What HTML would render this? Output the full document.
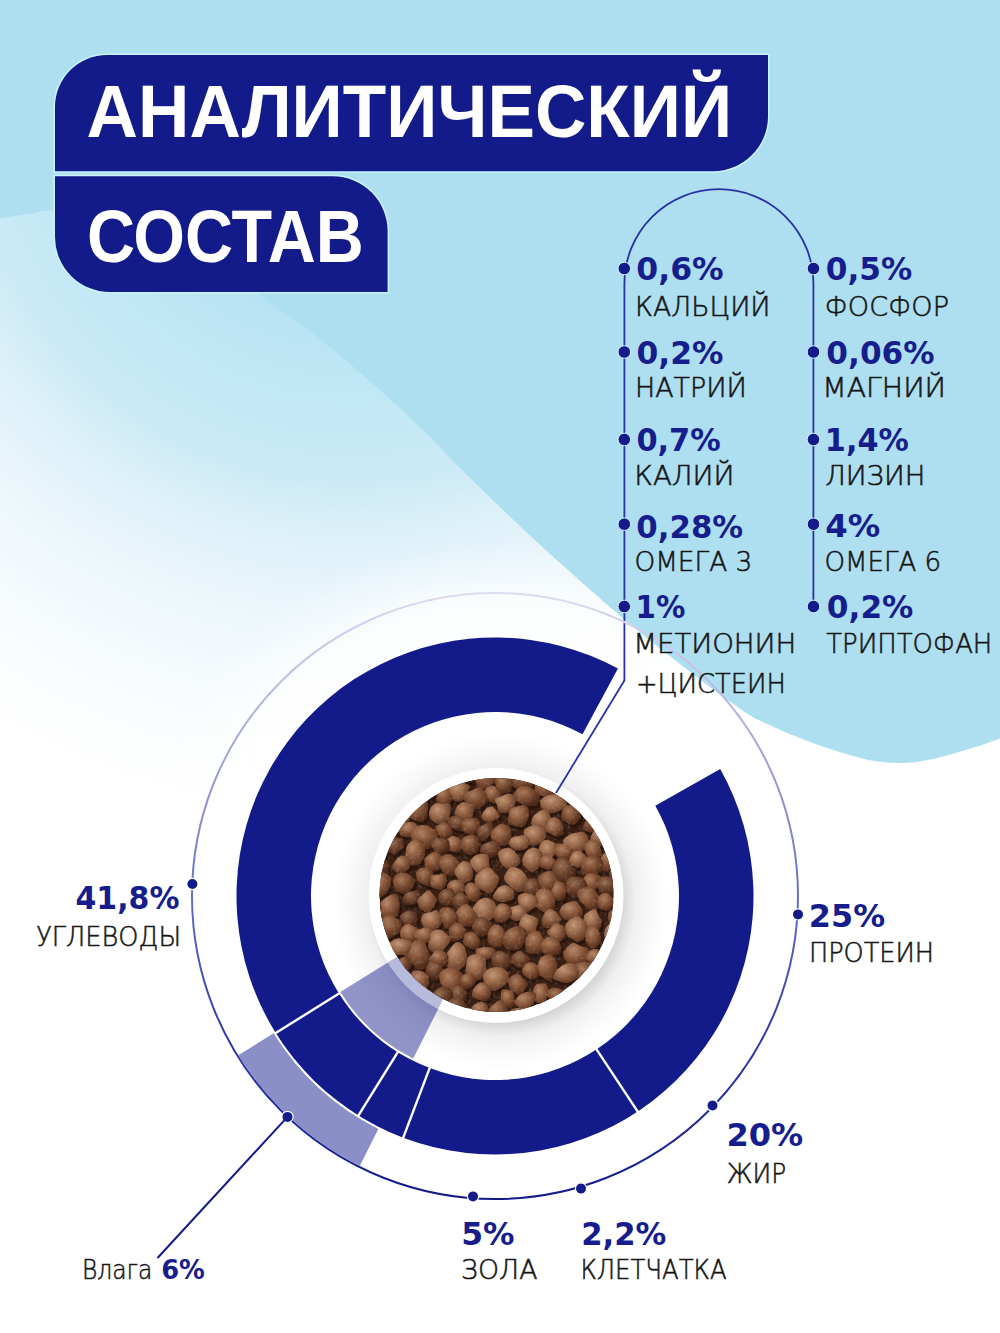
<!DOCTYPE html>
<html lang="ru"><head><meta charset="utf-8"><title>Аналитический состав</title>
<style>html,body{margin:0;padding:0;background:#fff;}body{width:1000px;height:1333px;overflow:hidden;}svg{display:block;}</style>
</head><body>
<svg width="1000" height="1333" viewBox="0 0 1000 1333" font-family="'Liberation Sans', 'DejaVu Sans', sans-serif">
<defs>
<radialGradient id="bgg" gradientUnits="userSpaceOnUse" cx="350" cy="100" r="720">
<stop offset="0" stop-color="#aedff0"/><stop offset="0.278" stop-color="#b6e2f3"/><stop offset="0.417" stop-color="#c2e7f5"/><stop offset="0.528" stop-color="#cbeaf6"/><stop offset="0.597" stop-color="#dbf0f8"/><stop offset="0.639" stop-color="#e1f2fa"/><stop offset="0.694" stop-color="#e9f5fb"/><stop offset="0.75" stop-color="#eff8fc"/><stop offset="0.806" stop-color="#f4fafd"/><stop offset="0.903" stop-color="#fafdfe"/><stop offset="1" stop-color="#ffffff"/>
</radialGradient>
<linearGradient id="ring" gradientUnits="userSpaceOnUse" x1="0" y1="593" x2="0" y2="1199">
<stop offset="0" stop-color="#e0dbf0"/><stop offset="0.3" stop-color="#9c9ad3"/><stop offset="0.5" stop-color="#6870c2"/><stop offset="0.75" stop-color="#2c35a4"/><stop offset="1" stop-color="#131b8b"/>
</linearGradient>
<radialGradient id="glow" gradientUnits="userSpaceOnUse" cx="495" cy="896" r="360">
<stop offset="0" stop-color="#fff" stop-opacity="1"/><stop offset="0.8" stop-color="#fff" stop-opacity="0.85"/><stop offset="0.9" stop-color="#fff" stop-opacity="0.35"/><stop offset="1" stop-color="#fff" stop-opacity="0"/>
</radialGradient>
<radialGradient id="shadow" gradientUnits="userSpaceOnUse" cx="501" cy="902" r="168">
<stop offset="0.72" stop-color="#000" stop-opacity="0.16"/><stop offset="0.80" stop-color="#000" stop-opacity="0.06"/><stop offset="0.9" stop-color="#000" stop-opacity="0.025"/><stop offset="1" stop-color="#000" stop-opacity="0"/>
</radialGradient>
<radialGradient id="k1" cx="0.4" cy="0.35" r="0.7"><stop offset="0" stop-color="#c08e6c"/><stop offset="0.6" stop-color="#9a6446"/><stop offset="1" stop-color="#5e3421"/></radialGradient>
<radialGradient id="k2" cx="0.4" cy="0.35" r="0.7"><stop offset="0" stop-color="#b07a58"/><stop offset="0.6" stop-color="#8c5539"/><stop offset="1" stop-color="#52301f"/></radialGradient>
<radialGradient id="k3" cx="0.4" cy="0.35" r="0.7"><stop offset="0" stop-color="#c9997a"/><stop offset="0.6" stop-color="#a56e4f"/><stop offset="1" stop-color="#643a25"/></radialGradient>
<radialGradient id="k4" cx="0.4" cy="0.35" r="0.7"><stop offset="0" stop-color="#a87254"/><stop offset="0.6" stop-color="#7e4a31"/><stop offset="1" stop-color="#4a2a1a"/></radialGradient>
<radialGradient id="ka" cx="0.38" cy="0.32" r="0.75"><stop offset="0" stop-color="#b5886a"/><stop offset="0.45" stop-color="#8c5a3e"/><stop offset="1" stop-color="#4a2616"/></radialGradient>
<radialGradient id="kb" cx="0.38" cy="0.32" r="0.75"><stop offset="0" stop-color="#a67a5c"/><stop offset="0.45" stop-color="#7c4c32"/><stop offset="1" stop-color="#402012"/></radialGradient>
<radialGradient id="kc" cx="0.38" cy="0.32" r="0.75"><stop offset="0" stop-color="#c09474"/><stop offset="0.45" stop-color="#98684a"/><stop offset="1" stop-color="#542e1c"/></radialGradient>
<radialGradient id="kd" cx="0.38" cy="0.32" r="0.75"><stop offset="0" stop-color="#966e54"/><stop offset="0.45" stop-color="#6c422c"/><stop offset="1" stop-color="#381a0e"/></radialGradient>
<radialGradient id="ke" cx="0.38" cy="0.32" r="0.75"><stop offset="0" stop-color="#ae8062"/><stop offset="0.45" stop-color="#865438"/><stop offset="1" stop-color="#482414"/></radialGradient>
<filter id="grain" x="0" y="0" width="1" height="1" color-interpolation-filters="sRGB">
<feTurbulence type="fractalNoise" baseFrequency="0.28" numOctaves="2" seed="5"/>
<feColorMatrix type="matrix" values="0 0 0 0 0.9  0 0 0 0 0.78  0 0 0 0 0.68  1.8 0 0 0 -0.95"/>
</filter>
<clipPath id="food"><circle cx="496.5" cy="895" r="117"/></clipPath>
<clipPath id="rimclip"><circle cx="496" cy="895.5" r="127.5"/></clipPath>
</defs>
<rect width="1000" height="1333" fill="#aedff0"/>
<path d="M-5 219 C0.83 218.17 19.17 215.17 30 214 C40.83 212.83 40 208 60 212 C80 216 124.17 229.33 150 238 C175.83 246.67 197.27 254.83 215 264 C232.73 273.17 238.23 279.93 256.4 293 C274.57 306.07 299.73 322.9 324 342.4 C348.27 361.9 377.73 387.47 402 410 C426.27 432.53 446.6 455.13 469.6 477.6 C492.6 500.07 514.27 521.2 540 544.8 C565.73 568.4 600 598.8 624 619.2 C648 639.6 666 653.2 684 667.2 C702 681.2 719.33 694.27 732 703.2 C744.67 712.13 747.33 714.47 760 720.8 C772.67 727.13 792 735.2 808 741.2 C824 747.2 844 753.37 856 756.8 C868 760.23 872 760.77 880 761.8 C888 762.83 896 763.3 904 763 C912 762.7 920 761.5 928 760 C936 758.5 944 756.2 952 754 C960 751.8 968 749.4 976 746.8 C984 744.2 994 740.7 1000 738.4 C1006 736.1 1010 733.9 1012 733 L1012 1340 L-5 1340 Z" fill="url(#bgg)"/>
<path d="M-5 219 C0.83 218.17 19.17 215.17 30 214 C40.83 212.83 40 208 60 212 C80 216 124.17 229.33 150 238 C175.83 246.67 197.27 254.83 215 264 C232.73 273.17 238.23 279.93 256.4 293 C274.57 306.07 299.73 322.9 324 342.4 C348.27 361.9 377.73 387.47 402 410 C426.27 432.53 446.6 455.13 469.6 477.6 C492.6 500.07 514.27 521.2 540 544.8 C565.73 568.4 600 598.8 624 619.2 C648 639.6 666 653.2 684 667.2 C702 681.2 719.33 694.27 732 703.2 C744.67 712.13 747.33 714.47 760 720.8 C772.67 727.13 792 735.2 808 741.2 C824 747.2 844 753.37 856 756.8 C868 760.23 872 760.77 880 761.8 C888 762.83 896 763.3 904 763 C912 762.7 920 761.5 928 760 C936 758.5 944 756.2 952 754 C960 751.8 968 749.4 976 746.8 C984 744.2 994 740.7 1000 738.4 C1006 736.1 1010 733.9 1012 733 L1012 1340 L-5 1340 Z" fill="url(#glow)"/>
<path d="M107 55 H768 V116.19999999999999 A55 55 0 0 1 713 171.2 H55 V107 A52 52 0 0 1 107 55 Z" fill="#131b8b" stroke="#c8f3fe" stroke-width="3" paint-order="stroke"/>
<path d="M55 176.2 H332.6 A55 55 0 0 1 387.6 231.2 V292 H110 A55 55 0 0 1 55 237 Z" fill="#131b8b" stroke="#c8f3fe" stroke-width="3" paint-order="stroke"/>
<path d="M624.4 283.7 A94.5 94.5 0 0 1 813.4 283.7 V606.5 M624.4 283.7 V681" fill="none" stroke="#2832a6" stroke-width="1.8"/>
<circle cx="624.3" cy="268.5" r="6.3" fill="#131b8b" stroke="#d6f3ff" stroke-width="1"/>
<circle cx="624.3" cy="352" r="6.3" fill="#131b8b" stroke="#d6f3ff" stroke-width="1"/>
<circle cx="624.3" cy="439.5" r="6.3" fill="#131b8b" stroke="#d6f3ff" stroke-width="1"/>
<circle cx="624.3" cy="524.2" r="6.3" fill="#131b8b" stroke="#d6f3ff" stroke-width="1"/>
<circle cx="624.3" cy="606.5" r="6.3" fill="#131b8b" stroke="#d6f3ff" stroke-width="1"/>
<circle cx="813.5" cy="268.5" r="6.3" fill="#131b8b" stroke="#d6f3ff" stroke-width="1"/>
<circle cx="813.5" cy="352" r="6.3" fill="#131b8b" stroke="#d6f3ff" stroke-width="1"/>
<circle cx="813.5" cy="439.5" r="6.3" fill="#131b8b" stroke="#d6f3ff" stroke-width="1"/>
<circle cx="813.5" cy="524.2" r="6.3" fill="#131b8b" stroke="#d6f3ff" stroke-width="1"/>
<circle cx="813.5" cy="606.5" r="6.3" fill="#131b8b" stroke="#d6f3ff" stroke-width="1"/>
<circle cx="495.0" cy="896.0" r="303" fill="none" stroke="url(#ring)" stroke-width="2"/>
<path d="M238.33 1055.14 A302 302 0 0 0 359.78 1166.03 L378.36 1128.93 A260.5 260.5 0 0 1 273.6 1033.27 Z" fill="#8a8fc7"/>
<path d="M617.95 668.61 A258.5 258.5 0 1 0 720.21 769.1 L655.3 805.67 A184 184 0 1 1 582.51 734.14 Z" fill="#131b8b"/>
<line x1="340.23" y1="992.71" x2="274.93" y2="1033.51" stroke="#fff" stroke-width="2.4"/>
<line x1="398.56" y1="1050.94" x2="357.87" y2="1116.31" stroke="#fff" stroke-width="2.4"/>
<line x1="430.19" y1="1066.61" x2="402.85" y2="1138.59" stroke="#fff" stroke-width="2.4"/>
<line x1="595.73" y1="1048.18" x2="638.23" y2="1112.39" stroke="#fff" stroke-width="2.4"/>
<circle cx="501" cy="902" r="168" fill="url(#shadow)"/>
<path d="M340.32 991.91 A182 182 0 0 0 413.22 1058.59 L450.07 985.34 A100 100 0 0 1 410.01 948.7 Z" fill="#131b8b" fill-opacity="0.47"/>
<circle cx="496" cy="895.5" r="127.5" fill="#ffffff"/>
<path d="M340.32 991.91 A182 182 0 0 0 413.22 1058.59 L450.07 985.34 A100 100 0 0 1 410.01 948.7 Z" fill="#131b8b" fill-opacity="0.3" clip-path="url(#rimclip)"/>
<g clip-path="url(#food)"><circle cx="496.5" cy="895.0" r="117.0" fill="#3a2014"/>
<g fill="#24120a" opacity="0.8"><path d="M474.1 774.7C473.9 777.1 474.5 780.9 472.8 782.1C471.1 783.4 466.8 782.5 464 782.3C461.3 782.2 458.4 782.3 456.3 781.1C454.2 779.8 452.1 777.2 451.6 775.1C451.1 772.9 452.1 770.5 453.2 768.3C454.2 766.1 455.6 762.9 458 761.8C460.4 760.8 464.8 761 467.5 762C470.2 762.9 473.3 765.4 474.4 767.5C475.5 769.6 474.4 772.3 474.1 774.7Z" transform="translate(2 3)"/><path d="M496.4 781.5C495.1 783.8 491.4 784.5 488.9 785.9C486.3 787.3 483.2 790.3 481.1 789.9C479 789.4 477.2 785.6 476.2 783.2C475.2 780.9 474.7 778.1 475.1 775.7C475.5 773.3 476.9 771 478.5 768.7C480.1 766.4 482.5 762.6 484.9 762C487.3 761.4 490.8 763.2 492.8 765C494.8 766.7 496.2 769.5 496.8 772.3C497.4 775 497.8 779.2 496.4 781.5Z" transform="translate(2 3)"/><path d="M527 790.1C524.3 790.9 520.7 790.9 518 789.8C515.3 788.7 512 786 511 783.4C509.9 780.8 510.8 776.8 511.6 774.2C512.5 771.6 514.1 769.7 516 767.9C518 766.2 520.7 763.6 523 763.7C525.4 763.9 528.1 766.7 529.9 768.6C531.8 770.6 533.3 772.8 534.1 775.5C534.9 778.2 535.9 782.5 534.8 784.9C533.6 787.4 529.8 789.2 527 790.1Z" transform="translate(2 3)"/><path d="M453.8 786.8C452.8 788.2 449.9 789.1 447.7 789.1C445.5 789.2 442.3 788.4 440.6 786.9C438.8 785.5 438 782.5 437.3 780.4C436.6 778.2 435.6 775.5 436.2 774C436.9 772.4 439.4 771.5 441.1 770.9C442.9 770.4 444.9 770.1 446.8 770.6C448.8 771.2 451.5 772.5 452.7 774.1C453.8 775.7 453.5 778.1 453.7 780.2C453.9 782.3 454.8 785.3 453.8 786.8Z" transform="translate(2 3)"/><path d="M512.9 785.8C512.6 787.9 511 790.5 509.5 791.8C508 793 505.9 793.2 504.1 793.3C502.3 793.5 499.9 793.9 498.6 792.9C497.3 791.8 496.9 789.2 496.3 787.1C495.7 785.1 494.6 782.5 495.1 780.4C495.7 778.3 497.8 775.4 499.6 774.6C501.4 773.8 503.9 775.2 505.9 775.9C507.8 776.6 510.1 777.1 511.3 778.8C512.5 780.4 513.2 783.6 512.9 785.8Z" transform="translate(2 3)"/><path d="M542.6 796.2C540 795.6 535.8 795.8 534.6 793.9C533.3 792 534.6 787.6 535.2 784.9C535.8 782.3 536.7 779.8 538.3 778C539.9 776.2 542.4 774.4 544.7 774.1C547 773.8 550 774.6 551.8 776C553.6 777.4 554.5 780 555.4 782.6C556.3 785.2 558.3 789 557.4 791.5C556.6 794 552.9 796.8 550.5 797.6C548 798.4 545.3 796.8 542.6 796.2Z" transform="translate(2 3)"/><path d="M422.2 801.5C420.4 800.5 420.5 796 420 793C419.5 790.1 418.2 786.7 419.2 783.9C420.3 781.2 423.9 778.6 426.5 776.7C429 774.8 432.2 772.4 434.5 772.6C436.7 772.7 438.8 775.3 439.9 777.5C440.9 779.6 441.4 782.7 440.9 785.4C440.4 788 438.6 791 436.9 793.3C435.2 795.6 433.1 797.7 430.7 799C428.2 800.4 424 802.5 422.2 801.5Z" transform="translate(2 3)"/><path d="M450.8 797.7C449.4 795.9 448.1 793.7 447.9 791.5C447.8 789.2 448.6 786.1 450.1 784.2C451.6 782.2 454.6 780.1 456.8 779.9C459 779.6 461.2 781.5 463.3 782.5C465.4 783.5 468.7 784.3 469.4 786.1C470.1 787.9 468.2 791 467.3 793.2C466.4 795.5 465.8 798.2 464 799.7C462.2 801.1 458.8 802.1 456.6 801.7C454.4 801.4 452.3 799.4 450.8 797.7Z" transform="translate(2 3)"/><path d="M576.9 797.4C575.5 798.8 572.4 798.5 570.2 799.1C568 799.6 565.6 801.3 563.9 800.8C562.1 800.2 560.3 797.7 559.7 795.8C559.2 793.8 559.6 791 560.5 789.2C561.4 787.4 563.3 786.2 564.9 785C566.6 783.8 568.6 782 570.3 782C572 782.1 573.5 783.9 575 785.3C576.4 786.6 578.5 788.2 578.8 790.2C579.1 792.2 578.3 795.9 576.9 797.4Z" transform="translate(2 3)"/><path d="M500.8 800.6C499.8 802.1 497.4 803.2 495.5 803.4C493.6 803.5 491.1 802.6 489.4 801.5C487.6 800.4 485.8 798.7 485 797C484.2 795.2 483.9 792.8 484.4 791.1C484.9 789.4 486.2 787.5 487.8 786.6C489.3 785.7 492 785.3 493.7 785.9C495.4 786.5 496.7 788.7 498 790.2C499.3 791.6 501.2 793 501.7 794.7C502.2 796.5 501.9 799.2 500.8 800.6Z" transform="translate(2 3)"/><path d="M526.1 806.1C523.4 805.7 521.5 804.1 519.1 802.7C516.8 801.3 512.8 799.7 512.2 797.7C511.7 795.8 514.1 792.8 515.7 790.9C517.4 788.9 519.7 786.6 522.2 786C524.7 785.5 528.3 786.7 530.7 787.7C533 788.7 534.6 790.3 536.2 792.1C537.7 793.9 540 796.4 539.9 798.6C539.8 800.8 537.6 804 535.3 805.2C533 806.5 528.8 806.5 526.1 806.1Z" transform="translate(2 3)"/><path d="M445.3 805.7C443.7 806 441.7 806.1 440.2 805.2C438.7 804.3 436.6 802.1 436.1 800.2C435.7 798.3 436.8 795.6 437.6 793.8C438.4 792 439.4 790.7 440.9 789.5C442.3 788.4 444.6 786.3 446.1 786.8C447.6 787.3 448.7 790.6 449.8 792.5C450.9 794.4 452.8 796.3 452.8 798.2C452.7 800 450.9 802.3 449.7 803.5C448.4 804.8 446.9 805.4 445.3 805.7Z" transform="translate(2 3)"/><path d="M476.4 810C474.1 809.9 471.9 806.8 469.9 805.2C467.8 803.6 464.9 802.4 464.1 800.4C463.3 798.4 463.8 794.7 465.3 792.9C466.7 791.2 470.1 791 472.7 790C475.3 789 478.7 786.4 480.9 786.9C483.1 787.5 484.6 791.2 485.9 793.5C487.1 795.7 489 798.2 488.6 800.2C488.2 802.3 485.5 804.2 483.5 805.8C481.4 807.5 478.6 810.1 476.4 810Z" transform="translate(2 3)"/><path d="M556.9 812.3C554.3 813.2 550.4 813.9 547.9 813.2C545.3 812.5 542.7 810.2 541.5 808.1C540.3 805.9 539.6 802.4 540.7 800.2C541.9 798.1 545.7 796.1 548.3 795.1C550.8 794.1 553.6 794.1 556 794.2C558.5 794.4 561 794.7 563 795.9C565 797 567.9 799.2 568 801.2C568.1 803.2 565.5 806 563.6 807.9C561.8 809.7 559.5 811.4 556.9 812.3Z" transform="translate(2 3)"/><path d="M506.9 813C504.7 813.4 501.1 813.2 499.5 811.9C497.9 810.7 498.1 807.8 497.3 805.7C496.5 803.5 494 800.7 494.8 799.1C495.5 797.5 499.6 797.1 501.9 796.2C504.2 795.2 506.2 793.4 508.4 793.5C510.6 793.6 514 795.1 515.2 796.8C516.3 798.5 515.7 801.5 515.3 803.7C515 805.8 514.5 807.9 513.1 809.5C511.7 811.1 509.2 812.6 506.9 813Z" transform="translate(2 3)"/><path d="M595.4 814.4C594.1 815.5 592.3 816.2 590.5 816.4C588.7 816.5 586.4 816.4 584.7 815.4C583 814.5 580.6 812.3 580.2 810.6C579.8 808.8 581.5 806.7 582.3 805C583.1 803.3 583.5 800.9 585 800.1C586.4 799.3 589.2 799.6 591 800.3C592.8 800.9 594.7 802.3 596 803.8C597.2 805.4 598.5 807.8 598.4 809.6C598.3 811.4 596.7 813.3 595.4 814.4Z" transform="translate(2 3)"/><path d="M426.6 817.9C425.4 819.8 422.7 821.9 420.1 822C417.5 822 413.3 820.3 411.1 818.3C408.9 816.3 407.8 812.9 406.7 810.1C405.7 807.3 404.1 803.8 404.7 801.6C405.3 799.3 408.3 797.6 410.6 796.8C413 796.1 416 796.3 418.9 797.1C421.7 798 426 799.8 427.5 802C428.9 804.3 427.8 808.1 427.6 810.7C427.5 813.4 427.9 816.1 426.6 817.9Z" transform="translate(2 3)"/><path d="M471.8 820.3C470.4 821.8 467.1 822.8 464.9 822.7C462.6 822.6 460 821.2 458.3 819.6C456.6 818 455.2 815.5 454.9 813.3C454.7 811.1 455.7 808.4 456.9 806.5C458.1 804.7 460.3 802.7 462.3 802.2C464.4 801.6 466.9 802.4 469 803.2C471.1 804 474.2 805.3 474.8 807C475.5 808.7 473.5 811.4 473 813.6C472.5 815.8 473.1 818.8 471.8 820.3Z" transform="translate(2 3)"/><path d="M448.7 818.6C447.3 820.8 444.7 823.5 442.4 824.2C440.1 824.8 437 823.8 434.8 822.7C432.7 821.5 430.3 819.6 429.5 817.3C428.7 815 428.9 811.4 429.9 809.1C430.9 806.7 433.5 804 435.6 803.2C437.7 802.3 440 803.6 442.4 803.7C444.8 803.8 448.5 802.5 449.9 803.8C451.3 805.1 450.9 809 450.7 811.5C450.5 813.9 450.1 816.5 448.7 818.6Z" transform="translate(2 3)"/><path d="M579.3 820.3C578.2 822.2 575.9 824.7 573.8 825.1C571.8 825.5 569 823.9 567 822.8C565 821.7 562.8 820.4 561.9 818.6C561 816.8 561.4 814.3 561.8 812.1C562.2 809.9 562.8 806.7 564.4 805.6C566 804.4 569 805.1 571.4 805.2C573.8 805.3 577.3 804.7 578.9 806.1C580.5 807.5 580.7 811.1 580.8 813.5C580.8 815.8 580.5 818.3 579.3 820.3Z" transform="translate(2 3)"/><path d="M484.8 821.5C483.3 820.6 481.5 818.3 481.4 816.6C481.2 814.9 483 812.9 484 811.3C485.1 809.8 486 808.1 487.5 807.4C489 806.6 491.5 806.2 493 806.8C494.5 807.3 495.3 809.3 496.5 810.8C497.6 812.3 500.1 814.4 499.9 816C499.7 817.5 496.6 819.1 495 820.1C493.4 821.1 492.1 821.9 490.4 822.1C488.7 822.3 486.3 822.5 484.8 821.5Z" transform="translate(2 3)"/><path d="M397.2 825C395.6 824.4 394.4 822.7 393.5 820.9C392.6 819 391.4 816.6 391.7 814.1C392 811.7 393.6 807.8 395.3 806.4C396.9 804.9 399.7 805.5 401.8 805.4C404 805.2 406.5 804.4 408.2 805.6C409.8 806.7 411.4 809.7 411.6 812.3C411.7 814.9 410.6 819 409.1 821C407.6 823 404.7 823.8 402.7 824.4C400.7 825.1 398.7 825.6 397.2 825Z" transform="translate(2 3)"/><path d="M508.6 823.6C507.5 821.9 508.3 818.7 508.6 816.3C508.9 814 509 811 510.5 809.3C512 807.6 515.1 806.9 517.7 806.3C520.2 805.7 523.9 804.5 525.8 805.5C527.8 806.5 528.9 809.9 529.2 812.3C529.6 814.6 528.9 817.1 528 819.5C527 821.9 525.5 825.4 523.4 826.6C521.3 827.7 517.8 826.8 515.3 826.3C512.9 825.9 509.7 825.3 508.6 823.6Z" transform="translate(2 3)"/><path d="M536.1 829.6C534.5 828.9 532.5 827.8 531.8 825.9C531.2 824 531.3 820.5 532.2 818.2C533.2 816 535.7 813.9 537.6 812.5C539.5 811.1 541.8 809.8 543.7 809.8C545.6 809.8 547.5 811.1 548.7 812.6C549.9 814.2 551.2 816.6 551 819C550.9 821.4 549.4 824.9 547.8 826.8C546.2 828.6 543.4 829.5 541.5 830C539.6 830.5 537.7 830.3 536.1 829.6Z" transform="translate(2 3)"/><path d="M588.3 832C586.4 831.4 582.9 830.9 582.5 829.1C582 827.3 584.4 823.3 585.5 821.1C586.6 818.8 587.5 817.5 589.1 815.5C590.6 813.6 593 810 595.1 809.6C597.1 809.2 599.6 811.2 601.1 813C602.5 814.8 604 817.9 603.7 820.4C603.4 822.8 600.8 825.8 599.1 827.8C597.5 829.8 595.7 831.5 593.9 832.2C592.1 832.9 590.2 832.5 588.3 832Z" transform="translate(2 3)"/><path d="M455.1 830C453.3 829.3 451.2 828 449.9 826.5C448.6 825 447.1 822.6 447.3 820.9C447.5 819.3 449.3 817.6 450.9 816.8C452.6 815.9 455.2 815.6 457.3 815.9C459.5 816.2 461.9 817.5 463.8 818.8C465.6 820.2 467.8 822.2 468.5 824C469.1 825.9 469.1 828.9 467.9 830C466.6 831.1 463 830.6 460.9 830.6C458.8 830.6 457 830.7 455.1 830Z" transform="translate(2 3)"/><path d="M477.1 834.3C475.4 835.3 472.4 834.7 470.2 834.4C468.1 834.1 465.7 833.8 464.2 832.4C462.7 831.1 461.4 828.5 461.3 826.4C461.1 824.4 462 821.2 463.4 819.9C464.8 818.5 467.8 818.6 469.8 818.3C471.8 818 473.7 817.5 475.4 818.1C477.1 818.7 478.9 820.3 479.7 822C480.5 823.7 480.6 826 480.2 828.1C479.7 830.1 478.8 833.2 477.1 834.3Z" transform="translate(2 3)"/><path d="M562.5 834.6C561.3 836 558.4 836.9 556.5 836.8C554.5 836.7 552.9 835 550.9 833.9C548.9 832.8 545.1 831.9 544.4 830.2C543.8 828.5 545.9 825.6 546.9 823.7C547.8 821.7 548.5 819.3 550.2 818.4C551.9 817.4 555.1 817 557 817.8C558.9 818.5 560.4 821 561.6 822.8C562.7 824.5 563.7 826.4 563.9 828.4C564 830.3 563.7 833.2 562.5 834.6Z" transform="translate(2 3)"/><path d="M408.2 837.3C406.1 837.2 402.9 837.4 401.3 836.1C399.8 834.9 398.9 831.9 398.9 829.9C398.9 827.9 400 825.4 401.4 824.1C402.8 822.8 405.3 822.5 407.4 822.2C409.4 821.8 411.8 821.5 413.6 822.2C415.4 822.9 417 824.8 418 826.6C419 828.4 420 831.1 419.4 832.8C418.8 834.5 416.1 836 414.2 836.8C412.4 837.5 410.4 837.4 408.2 837.3Z" transform="translate(2 3)"/><path d="M388.9 841C386.9 840.9 384.8 839.1 383.2 837.8C381.6 836.5 379.4 834.8 379.1 833C378.8 831.3 380.5 828.9 381.5 827.4C382.6 825.9 383.8 824.9 385.4 824C386.9 823.1 389.4 821.5 390.9 822C392.4 822.5 393.1 825.2 394.2 826.9C395.4 828.6 397.6 830.1 397.7 832C397.9 833.9 396.5 836.6 395 838.1C393.6 839.6 390.9 841 388.9 841Z" transform="translate(2 3)"/><path d="M452.4 838C451.4 839.2 449 839.5 447.1 839.5C445.2 839.5 442.8 839.1 441.2 838C439.6 836.9 438.7 834.7 437.7 832.9C436.7 831.1 434.9 828.5 435.2 827C435.5 825.5 437.9 824.8 439.6 823.9C441.2 823.1 443.3 821.6 445.1 822.1C447 822.6 449.3 825.2 450.6 827C451.9 828.7 452.6 830.7 452.9 832.6C453.2 834.4 453.4 836.9 452.4 838Z" transform="translate(2 3)"/><path d="M478 838.5C477.1 837.1 476.7 835.7 476.7 834C476.7 832.3 476.8 829.7 478 828.2C479.2 826.6 481.7 825.8 483.7 824.7C485.7 823.7 488.6 821.7 490.2 821.9C491.9 822.2 493.5 824.4 493.8 826.2C494.1 828 493.2 830.7 492.2 832.6C491.3 834.4 489.6 836 487.8 837.5C486.1 839.1 483.5 841.8 481.9 841.9C480.2 842.1 478.9 839.8 478 838.5Z" transform="translate(2 3)"/><path d="M525.6 838.9C524.5 836.5 523 832.7 523.7 830.6C524.4 828.5 527.8 827.2 529.8 826.3C531.9 825.5 533.8 825.3 535.9 825.5C538 825.7 540.9 826 542.7 827.6C544.5 829.2 546.5 832.8 546.5 835.1C546.5 837.5 544.4 840.2 542.8 841.8C541.3 843.4 539.4 844.1 537.4 844.7C535.3 845.3 532.4 846.3 530.4 845.3C528.5 844.4 526.8 841.4 525.6 838.9Z" transform="translate(2 3)"/><path d="M496.8 845.7C494.8 844.8 493.3 841.9 492.2 839.7C491.2 837.6 490.1 834.8 490.6 832.8C491.1 830.7 493.3 829 495.3 827.5C497.2 826 499.8 823.8 502.3 823.8C504.8 823.9 508.7 825.7 510.2 827.7C511.7 829.6 511.5 833 511.5 835.4C511.5 837.8 511.4 840.4 510.2 842C509 843.7 506.4 844.6 504.2 845.2C501.9 845.8 498.7 846.7 496.8 845.7Z" transform="translate(2 3)"/><path d="M604.2 845.8C601.8 846.4 598.7 846.7 596.4 846C594 845.4 590.9 843.6 590.1 841.7C589.3 839.9 590.6 837 591.6 834.9C592.6 832.7 593.9 830.3 596.1 828.8C598.3 827.4 602.5 825.8 604.8 826.3C607.1 826.7 608.7 829.9 610 831.6C611.2 833.3 612.2 834.9 612.2 836.6C612.3 838.4 611.6 840.7 610.3 842.2C608.9 843.7 606.5 845.2 604.2 845.8Z" transform="translate(2 3)"/><path d="M432.1 847.9C430 849 427.4 849.6 425.1 849C422.8 848.5 420.8 846.4 418.4 844.4C416 842.5 411.6 839.8 410.8 837.2C410 834.5 412 830.5 413.6 828.5C415.2 826.5 417.9 825.5 420.4 825.2C422.9 824.8 425.7 825 428.4 826.3C431.1 827.5 435.1 829.7 436.8 832.5C438.4 835.2 438.9 840.1 438.1 842.7C437.3 845.3 434.3 846.9 432.1 847.9Z" transform="translate(2 3)"/><path d="M575.1 853.1C572.5 852.8 569.4 850.8 567.4 848.8C565.4 846.7 562.6 843.3 562.9 841C563.2 838.7 567.1 836.5 569.3 835.1C571.5 833.8 573.5 833.2 576.1 832.8C578.7 832.3 582.6 831.2 584.7 832.4C586.8 833.5 588.2 837.2 588.7 839.5C589.2 841.8 588.5 844.3 587.5 846.1C586.5 848 584.8 849.5 582.7 850.7C580.7 851.9 577.6 853.4 575.1 853.1Z" transform="translate(2 3)"/><path d="M528.9 845.2C528.2 846.8 527.3 848.2 525.9 849.1C524.6 850 522.6 850.5 520.6 850.5C518.6 850.6 515.9 850.5 514 849.4C512.1 848.4 509.5 846.1 509 844.2C508.6 842.3 509.7 839.4 511.2 838.1C512.6 836.8 515.5 836.8 517.7 836.3C519.9 835.9 522.3 834.7 524.3 835.2C526.3 835.8 529.1 837.9 529.8 839.6C530.6 841.2 529.5 843.6 528.9 845.2Z" transform="translate(2 3)"/><path d="M451.7 851.7C449.6 850.9 447.8 849.4 446.5 847.9C445.3 846.4 444 844.4 444.2 842.9C444.3 841.4 446 840.1 447.4 838.9C448.7 837.8 450.4 836.1 452.3 835.9C454.2 835.8 457.2 836.8 458.9 838C460.5 839.1 461.7 841 462.3 842.7C463 844.3 463.4 846.3 462.8 847.9C462.3 849.5 460.9 851.8 459 852.4C457.2 853.1 453.8 852.4 451.7 851.7Z" transform="translate(2 3)"/><path d="M479.7 845.6C479.5 848.4 478.2 852.4 476.6 853.9C475 855.4 472 854.6 470 854.5C468 854.4 466.1 854.3 464.7 853.2C463.3 852 462.1 849.7 461.5 847.4C460.9 845.1 460.4 841.3 461.3 839.4C462.2 837.4 465.1 836.5 466.9 835.7C468.7 834.9 470.3 834.5 472.1 834.8C474 835.1 476.6 835.5 477.9 837.3C479.2 839.1 479.9 842.8 479.7 845.6Z" transform="translate(2 3)"/><path d="M446.6 853.6C445 854.7 442 854.2 440 853.8C438.1 853.4 436.2 852.6 434.8 851.4C433.5 850.1 432.7 848.4 432 846.5C431.3 844.6 429.8 841.4 430.5 840C431.3 838.6 434.6 838.4 436.5 838C438.4 837.7 439.9 837.5 441.8 837.9C443.8 838.2 447 838.7 448.3 840.3C449.7 842 450 845.3 449.8 847.5C449.5 849.7 448.3 852.6 446.6 853.6Z" transform="translate(2 3)"/><path d="M390 853C388.6 852 386.6 851 386.3 849.4C386 847.7 387.2 845.1 388.2 843.1C389.2 841.1 390.6 838.3 392.2 837.4C393.8 836.5 396.1 837.1 397.9 837.5C399.7 837.8 401.7 838.2 402.8 839.5C403.9 840.8 405 843.7 404.5 845.6C403.9 847.5 401.2 849.2 399.6 850.9C398 852.5 396.3 855.1 394.8 855.4C393.2 855.8 391.5 854 390 853Z" transform="translate(2 3)"/><path d="M558.1 851C557.6 852.9 555.1 854.4 553.4 855.9C551.6 857.5 549.6 860.3 547.7 860.4C545.9 860.4 543.7 857.9 542.2 856.2C540.7 854.5 539.1 852.5 538.9 850.4C538.6 848.3 539.4 845.2 540.6 843.4C541.8 841.6 544.2 840.1 546 839.8C547.8 839.4 549.7 840.5 551.5 841.2C553.2 842 555.3 842.6 556.4 844.2C557.5 845.8 558.6 849 558.1 851Z" transform="translate(2 3)"/><path d="M479.7 851.9C479.3 850 480.4 847.1 481.7 845.5C483 843.9 485.5 843.4 487.5 842.5C489.5 841.7 492.1 840.1 493.8 840.5C495.6 840.9 496.7 843.2 498 844.8C499.3 846.4 501.6 848.3 501.5 850.1C501.5 852 499.5 854.8 497.7 856C496 857.2 493.2 857.1 490.9 857.2C488.7 857.4 486.1 857.8 484.2 856.9C482.4 856 480.2 853.8 479.7 851.9Z" transform="translate(2 3)"/><path d="M597.3 858.8C595.6 859.7 593.4 861.5 591.7 860.9C590 860.2 588.4 856.9 587.2 854.9C585.9 852.8 584.3 850.6 584.2 848.6C584.1 846.6 585.4 844.5 586.5 843C587.7 841.5 589.3 839.8 591.1 839.6C593 839.4 595.9 840.3 597.4 841.7C599 843.2 599.7 846 600.5 848.3C601.3 850.6 602.8 853.7 602.3 855.5C601.7 857.2 599.1 857.9 597.3 858.8Z" transform="translate(2 3)"/><path d="M373 860.1C371.4 859.4 369.7 857.3 369.4 855.3C369.1 853.3 370.2 850 371.4 848.2C372.5 846.4 374.9 845.1 376.5 844.2C378.2 843.4 379.9 842.9 381.5 842.9C383.1 843 385.2 843.5 386 844.8C386.8 846.1 386.5 848.4 386.4 850.5C386.2 852.6 386.5 856 385.2 857.5C384 859.1 380.9 859.3 378.9 859.8C376.8 860.2 374.6 860.9 373 860.1Z" transform="translate(2 3)"/><path d="M573.2 856C572.3 857.5 570.6 858.8 568.8 859.4C567 859.9 564.4 860.1 562.3 859.5C560.2 859 557.4 857.5 556.2 856.1C555 854.6 555.3 852.6 555 850.8C554.8 848.9 553.4 845.9 554.5 844.7C555.5 843.6 559.2 843.5 561.4 843.7C563.7 843.9 565.9 845 568 846.1C570.1 847.2 573.2 848.7 574 850.3C574.9 852 574 854.5 573.2 856Z" transform="translate(2 3)"/><path d="M423.9 858.4C422.7 860.9 420.4 863.9 418.2 865.1C416 866.2 413.1 865.9 410.8 865.4C408.5 864.9 405.2 863.9 404.4 861.9C403.5 859.9 405.1 856.2 405.6 853.3C406.1 850.5 405.9 847.2 407.5 844.9C409.1 842.5 412.6 839.7 415.2 839.2C417.8 838.6 421.6 839.7 423.2 841.6C424.9 843.4 425.1 847.3 425.2 850.1C425.3 852.9 425.1 855.9 423.9 858.4Z" transform="translate(2 3)"/><path d="M502.8 865.4C501 863.5 499.9 861.3 499.2 859.1C498.4 856.8 497.5 853.9 498.3 852.1C499 850.4 501.6 849 503.7 848.4C505.8 847.8 508.9 847.5 511 848.4C513.2 849.3 515.1 851.8 516.7 853.9C518.4 856 521.1 859 521 861.1C521 863.2 518.5 865.2 516.7 866.7C514.9 868.3 512.5 870.4 510.2 870.2C507.9 870 504.7 867.2 502.8 865.4Z" transform="translate(2 3)"/><path d="M583.4 863.8C581.9 865.5 580.2 867.7 578.5 868C576.8 868.4 575.1 866.7 573.4 866C571.7 865.2 568.9 864.9 568.4 863.4C567.9 862 569.5 859.1 570.3 857.3C571.2 855.4 572 853.4 573.4 852.3C574.8 851.2 577.3 850.3 578.9 850.4C580.6 850.6 581.9 852 583.3 853.2C584.6 854.4 587.2 856 587.2 857.8C587.2 859.6 584.8 862.1 583.4 863.8Z" transform="translate(2 3)"/><path d="M532.1 872.5C530.2 872.5 528 870.3 526.4 868.5C524.7 866.7 522.6 864.2 522.3 861.7C522 859.1 523.4 855.5 524.7 853.3C526 851.1 528.1 849.3 530.1 848.4C532.1 847.6 534.7 847.4 536.8 848.3C538.9 849.1 541.8 851.1 542.6 853.5C543.4 855.8 542.3 859.8 541.5 862.3C540.7 864.9 539.5 867 537.9 868.7C536.4 870.4 534 872.5 532.1 872.5Z" transform="translate(2 3)"/><path d="M599.9 869.6C598.6 868.1 598.2 865.1 598.7 862.7C599.1 860.3 600.6 857.6 602.5 855.3C604.3 852.9 607.4 849.3 609.7 848.7C612 848.1 614.7 850.4 616.3 851.6C618 852.8 619 854.1 619.6 855.9C620.3 857.7 621.2 860.5 620.2 862.4C619.2 864.4 616 866 613.7 867.5C611.4 869 608.9 871.3 606.6 871.7C604.3 872.1 601.2 871.1 599.9 869.6Z" transform="translate(2 3)"/><path d="M440.5 868.6C439.1 870.2 435.9 871.1 433.7 871.4C431.5 871.7 428.5 871.5 427.1 870.3C425.6 869.2 425.4 866.3 424.9 864.4C424.5 862.4 423.8 860.2 424.5 858.6C425.1 856.9 427.3 855.8 429.1 854.7C430.8 853.5 433 851.7 435 851.7C436.9 851.7 439.8 853.2 441 854.9C442.1 856.5 442 859.3 441.9 861.6C441.8 863.8 441.8 867 440.5 868.6Z" transform="translate(2 3)"/><path d="M557.9 867.5C557.3 868.9 554.1 869.4 552.2 869.7C550.4 870 548.7 869.8 546.8 869.4C544.8 869 542.1 868.5 540.8 867.3C539.4 866.1 538.6 863.5 538.7 862C538.8 860.4 540.1 859 541.3 857.8C542.5 856.6 544.1 854.9 545.9 854.8C547.8 854.7 550.6 856.1 552.3 857.2C554 858.4 555 860.1 556 861.9C556.9 863.6 558.5 866.2 557.9 867.5Z" transform="translate(2 3)"/><path d="M489.9 869C489.3 871 487.3 873.8 485.2 874.5C483.2 875.3 479.7 874.3 477.6 873.3C475.6 872.3 474.2 870.2 472.9 868.3C471.6 866.5 469.8 864 470 862C470.1 860.1 472.2 857.8 473.9 856.5C475.6 855.2 477.8 854.3 480.2 854C482.5 853.8 486.5 853.7 487.9 855.1C489.4 856.5 488.8 860.2 489.2 862.5C489.5 864.9 490.6 867 489.9 869Z" transform="translate(2 3)"/><path d="M458.9 872.6C457.7 874.2 455.7 875.8 453.5 876.1C451.3 876.3 447.7 875.5 445.5 874.1C443.3 872.7 441.3 869.9 440.1 867.7C438.9 865.5 437.9 862.7 438.2 860.6C438.5 858.6 440.2 856.7 442 855.7C443.9 854.6 446.8 853.8 449.3 854.3C451.8 854.9 455 857.1 457 859.2C459 861.2 460.8 864.2 461.1 866.5C461.4 868.7 460.2 871 458.9 872.6Z" transform="translate(2 3)"/><path d="M394.5 871.4C393.2 870.3 392.1 867.9 392.2 866.1C392.4 864.3 394.2 862.2 395.6 860.5C397 858.8 398.9 856.3 400.8 855.7C402.7 855.2 405.4 856.1 407.1 857.1C408.8 858.1 410.6 859.8 411 861.6C411.4 863.3 410.3 865.9 409.4 867.7C408.4 869.4 406.8 871.2 405.2 872.1C403.6 872.9 401.5 872.9 399.7 872.8C397.9 872.7 395.7 872.5 394.5 871.4Z" transform="translate(2 3)"/><path d="M600.8 870.3C599.4 872.4 597.3 874 595.3 874.9C593.4 875.8 591.2 875.8 589 875.5C586.8 875.3 583.2 875.2 581.9 873.5C580.6 871.8 580.8 868.2 581.1 865.6C581.3 862.9 581.9 859.3 583.5 857.8C585.2 856.3 588.6 856.9 591 856.6C593.4 856.4 596 855.4 598.1 856.4C600.1 857.3 602.8 860 603.3 862.3C603.7 864.7 602.1 868.2 600.8 870.3Z" transform="translate(2 3)"/><path d="M380.2 877.5C377.7 878.2 374.3 877.8 371.8 877.1C369.3 876.4 366.3 875.1 365.4 873.3C364.5 871.6 365.4 868.6 366.4 866.6C367.4 864.6 369.4 862.9 371.4 861.5C373.5 860.1 376.1 858.6 378.7 858.3C381.2 858 384.9 858.5 386.6 859.7C388.4 861 389.2 863.7 389.3 865.8C389.3 867.9 388.7 870.5 387.1 872.4C385.6 874.4 382.8 876.7 380.2 877.5Z" transform="translate(2 3)"/><path d="M551.7 871.6C551.7 869.1 553.2 866.8 554.4 864.4C555.6 862 556.9 858.1 559.1 857.2C561.2 856.3 565.3 857.9 567.4 859.2C569.5 860.6 570.2 863.2 571.7 865.5C573.2 867.8 576.4 870.7 576.3 873.2C576.2 875.6 573.1 878.6 570.8 880.4C568.5 882.3 565.2 884.5 562.5 884.3C559.9 884.2 556.5 881.6 554.7 879.5C552.9 877.4 551.8 874.1 551.7 871.6Z" transform="translate(2 3)"/><path d="M469.3 881C467.6 882.1 465.3 883.8 463.3 883.4C461.4 883 459.1 880.5 457.6 878.5C456.1 876.5 454.2 873.4 454.3 871.3C454.4 869.1 456.8 867.3 458.3 865.6C459.8 863.9 461.2 861.5 463.2 861.1C465.3 860.8 468.8 861.8 470.4 863.4C471.9 865 472.3 868.3 472.8 870.6C473.2 872.8 473.7 875.1 473.1 876.8C472.5 878.5 470.9 879.9 469.3 881Z" transform="translate(2 3)"/><path d="M616.6 883.3C614.6 882.9 611.4 882.7 610.2 881C609 879.2 608.7 875.4 609.3 872.9C609.8 870.3 611.8 866.8 613.7 865.6C615.6 864.5 618.6 865.9 620.7 866.1C622.8 866.4 625 866 626.4 867.2C627.7 868.3 628.4 870.9 628.8 873.1C629.1 875.3 629.5 878.8 628.4 880.5C627.3 882.2 624 882.7 622 883.1C620 883.6 618.5 883.6 616.6 883.3Z" transform="translate(2 3)"/><path d="M429.6 887C428.1 887.6 425.3 885.4 423.4 884.4C421.4 883.5 419.2 882.9 417.9 881.1C416.7 879.4 415.7 876.1 415.8 874C416 872 417.6 870 418.9 868.9C420.2 867.8 421.8 867.7 423.6 867.5C425.4 867.3 427.9 866.5 429.6 867.7C431.3 868.8 433.5 872.1 433.9 874.4C434.3 876.6 433 878.9 432.2 881C431.5 883.1 431 886.4 429.6 887Z" transform="translate(2 3)"/><path d="M510.2 886.6C508.1 884.6 504.8 882 504.2 879.6C503.5 877.2 505 874.3 506.3 872.2C507.6 870.1 509.4 867.5 511.8 867.1C514.1 866.7 518 868.1 520.5 869.6C523 871.2 525.1 874 526.7 876.6C528.2 879.2 530.4 883 530 885.2C529.6 887.4 526.3 888.8 524.1 889.9C522 891 519.5 892.4 517.2 891.9C514.9 891.3 512.4 888.7 510.2 886.6Z" transform="translate(2 3)"/><path d="M482.7 890.4C480.2 889.1 477.1 888.1 475.9 885.9C474.7 883.7 474.4 879.5 475.3 877C476.2 874.4 479.1 872.4 481.4 870.8C483.7 869.2 486.6 867.1 488.9 867.4C491.2 867.7 493.2 870.5 495 872.4C496.7 874.3 499.1 876.5 499.3 878.8C499.5 881.2 497.8 884.1 496.4 886.6C494.9 889 492.9 893.1 490.6 893.8C488.3 894.4 485.1 891.7 482.7 890.4Z" transform="translate(2 3)"/><path d="M442.4 889.6C440.7 890.4 437.7 889.5 435.8 889C433.9 888.5 431.6 887.8 430.7 886.5C429.8 885.2 430.2 883 430.5 881.1C430.8 879.3 431 876.7 432.4 875.5C433.8 874.4 436.6 874.9 438.8 874.5C441 874.1 444.5 872.5 445.8 873.3C447.1 874.1 446.5 877.5 446.6 879.3C446.6 881.1 446.7 882.5 446 884.2C445.3 885.9 444.1 888.8 442.4 889.6Z" transform="translate(2 3)"/><path d="M550.1 892.8C548.1 893.2 545.1 891.9 543.3 890.6C541.5 889.4 540.1 887.4 539.2 885.2C538.3 883.1 537.2 880 537.9 877.9C538.6 875.8 541.3 873.9 543.4 872.7C545.6 871.5 548.6 870.3 550.8 870.8C553 871.3 555.4 873.6 556.8 875.5C558.2 877.4 559.7 880.3 559.5 882.4C559.2 884.5 557 886.6 555.5 888.3C553.9 890 552.1 892.4 550.1 892.8Z" transform="translate(2 3)"/><path d="M591.8 892.5C589.9 892.8 587.2 891.2 585.5 889.9C583.8 888.6 582.2 886.7 581.8 884.9C581.4 883 582.3 880.8 583.1 879C584 877.2 585.2 875 587 874C588.8 873.1 591.5 873 593.7 873.4C595.9 873.8 599.1 874.7 600.3 876.4C601.6 878.1 601.9 881.6 601.3 883.5C600.7 885.5 598.3 886.7 596.7 888.2C595.1 889.7 593.6 892.2 591.8 892.5Z" transform="translate(2 3)"/><path d="M408.2 893.7C406.6 894.5 404.4 894.4 402.3 893.8C400.1 893.1 396.9 891.9 395.3 889.6C393.7 887.3 392.5 882.7 392.7 880.1C393 877.5 395.3 875.3 396.9 874C398.6 872.8 400.6 872.6 402.6 872.6C404.6 872.7 407.1 872.8 409.1 874.3C411.2 875.8 414.4 879.3 414.9 881.7C415.3 884.2 412.8 887 411.7 889C410.5 891 409.8 892.9 408.2 893.7Z" transform="translate(2 3)"/><path d="M367.7 888.2C367.4 886 370.3 883.3 371.5 880.9C372.7 878.5 373 875.1 375.1 873.7C377.1 872.3 381 872 383.7 872.7C386.3 873.4 389.9 875.8 391 878.1C392 880.5 390.8 884.3 390.1 886.8C389.4 889.3 388.3 891.3 386.7 893C385.1 894.7 382.7 896.8 380.5 897C378.3 897.1 375.8 895.4 373.7 893.9C371.5 892.4 368.1 890.3 367.7 888.2Z" transform="translate(2 3)"/><path d="M601 893.8C599.2 892.4 598.3 889.4 597.5 886.9C596.7 884.4 595.1 880.7 596.1 878.9C597.1 877.2 601 876.7 603.4 876.4C605.7 876.2 607.7 876.8 610.1 877.5C612.5 878.3 616 879 617.5 880.9C618.9 882.8 619.4 886.6 618.8 888.7C618.2 890.8 615.9 892.3 614.1 893.3C612.4 894.4 610.5 895.1 608.3 895.2C606.1 895.3 602.8 895.2 601 893.8Z" transform="translate(2 3)"/><path d="M453.3 894.9C451.5 894.3 449.3 892.7 448.3 891C447.3 889.2 446.7 886.3 447.3 884.6C447.9 882.8 450.3 881.2 451.9 880.4C453.6 879.6 455.7 879.6 457.4 879.8C459.2 880 461.4 880.5 462.7 881.6C464 882.8 464.9 884.9 465.1 886.7C465.4 888.4 465.2 890.9 464.2 892.2C463.2 893.5 460.9 894 459.1 894.5C457.3 894.9 455.1 895.5 453.3 894.9Z" transform="translate(2 3)"/><path d="M530.1 895.8C528.1 895.3 525.5 895.3 524.2 893.9C522.9 892.5 522 889.3 522.4 887.3C522.7 885.3 524.6 883.4 526.1 881.9C527.5 880.5 529.1 879 531 878.6C532.8 878.1 535.9 878 537.3 879.1C538.6 880.3 538.5 883.1 539.2 885.2C539.8 887.3 541.8 889.7 541.3 891.6C540.9 893.6 538.4 896.2 536.5 896.9C534.6 897.6 532.2 896.3 530.1 895.8Z" transform="translate(2 3)"/><path d="M577.6 897C575.4 897.5 572.5 897 570.6 896.2C568.7 895.4 566.8 893.7 566 892.1C565.2 890.4 565.5 888.4 565.8 886.1C566 883.9 565.6 880 567.3 878.4C569.1 876.8 573.3 876.5 576.1 876.6C578.9 876.7 582.2 877.6 584.1 879.2C586.1 880.8 587.6 883.9 587.6 886.2C587.5 888.5 585.6 891.3 583.9 893.1C582.3 894.9 579.8 896.5 577.6 897Z" transform="translate(2 3)"/><path d="M550.4 893.1C550.2 891.1 552.1 888.9 553 887C554 885 554.6 881.9 556.1 881.2C557.7 880.4 560.5 881.5 562.2 882.5C563.8 883.4 565.6 885.4 566.2 887.2C566.9 888.9 566.4 891.2 566.2 893.1C566 895.1 566 897.8 564.9 899C563.8 900.3 561.5 900.6 559.8 900.6C558 900.6 555.8 900.3 554.2 899C552.7 897.8 550.6 895.1 550.4 893.1Z" transform="translate(2 3)"/><path d="M477.2 901.4C475.9 902.2 473.6 902.2 472 901.5C470.3 900.7 468.6 898.6 467.4 896.7C466.2 894.8 464.7 892.1 464.6 889.9C464.5 887.8 465.6 885.1 466.8 883.8C468 882.6 470.3 882.1 472 882.4C473.7 882.7 475.7 884.1 477.1 885.6C478.5 887 480 889.2 480.5 891.1C481 893 480.7 895.4 480.1 897.1C479.6 898.8 478.6 900.7 477.2 901.4Z" transform="translate(2 3)"/><path d="M492.8 897.5C492.4 895.8 494.4 893.1 495.5 891.3C496.6 889.5 497.8 887.9 499.5 886.9C501.2 885.8 503.8 885.1 505.7 885.3C507.7 885.5 509.7 886.7 511.2 888.1C512.7 889.4 514.6 891.5 514.7 893.5C514.8 895.5 513.4 898.7 511.7 900.1C510.1 901.4 506.9 901.4 504.6 901.7C502.4 901.9 500.2 902.2 498.2 901.6C496.3 900.9 493.3 899.2 492.8 897.5Z" transform="translate(2 3)"/><path d="M456.6 901C455.9 902.8 453.8 904.7 451.8 905.6C449.8 906.5 446.9 907 444.8 906.4C442.7 905.8 440.5 903.6 439.4 901.9C438.3 900.2 438.1 897.8 438.4 896.1C438.6 894.3 439.5 892.6 440.7 891.4C441.9 890.1 443.7 889.1 445.6 888.8C447.5 888.4 450.5 888 452.2 889C453.9 890 455 892.6 455.7 894.6C456.4 896.6 457.2 899.2 456.6 901Z" transform="translate(2 3)"/><path d="M403.9 904.5C402.7 903.4 402 900.8 402.5 898.8C403 896.9 405.1 894.3 406.8 893C408.6 891.7 410.9 891.6 413.1 891C415.2 890.5 418.2 889.2 419.5 890C420.7 890.7 420.1 893.6 420.3 895.3C420.5 897 421.4 899 420.5 900.4C419.7 901.9 417 903.2 415.2 904C413.4 904.9 411.6 905.5 409.7 905.6C407.8 905.6 405.1 905.6 403.9 904.5Z" transform="translate(2 3)"/><path d="M598.1 909.4C596.6 910.9 593.8 912.9 591.6 912.3C589.3 911.6 586.6 907.7 584.5 905.5C582.4 903.4 580.3 901.8 579 899.4C577.8 897 576.3 893 576.9 891.1C577.6 889.1 580.6 888.5 582.9 887.8C585.2 887.1 588.1 885.9 590.6 887C593.1 888 596.3 891.6 598 894.2C599.7 896.8 600.7 900.3 600.7 902.8C600.7 905.3 599.6 907.8 598.1 909.4Z" transform="translate(2 3)"/><path d="M550.5 913.4C548.5 914.3 545.2 912.9 542.7 911.7C540.3 910.5 537.2 908.7 535.9 906.2C534.6 903.7 534.5 899.6 534.9 896.9C535.3 894.2 536.8 891.3 538.5 889.9C540.3 888.5 543.1 888.4 545.3 888.7C547.4 889.1 549.9 890.2 551.6 891.9C553.3 893.6 554.9 896.5 555.4 899C555.8 901.4 555.1 904 554.3 906.4C553.5 908.9 552.4 912.5 550.5 913.4Z" transform="translate(2 3)"/><path d="M453 905.9C452 904.2 451.8 901.3 452.3 899.5C452.8 897.7 454.5 896.3 455.9 895C457.4 893.8 459.3 891.8 461 891.9C462.6 891.9 464.4 894.2 465.9 895.5C467.4 896.9 469.6 898.4 469.8 900C470 901.6 468.2 903.7 467.2 905.1C466.2 906.5 465.1 907.5 463.6 908.3C462.1 909.1 459.8 910.4 458.1 910C456.3 909.6 454 907.7 453 905.9Z" transform="translate(2 3)"/><path d="M537.9 904.5C537.2 906.4 534.5 907.6 532.5 908.9C530.5 910.1 527.9 912.3 525.9 912C523.9 911.6 521.9 908.5 520.6 906.8C519.3 905.1 518.5 903.5 518.2 901.7C517.8 899.8 517.5 897.2 518.5 895.8C519.5 894.3 522.3 893.3 524.3 893C526.3 892.8 528.3 893.6 530.4 894.3C532.5 895.1 535.6 895.8 536.8 897.5C538.1 899.2 538.6 902.6 537.9 904.5Z" transform="translate(2 3)"/><path d="M422.7 910.6C421 909.4 419.6 908.2 418.8 906.4C417.9 904.6 416.9 901.5 417.6 899.6C418.3 897.6 421 896.2 422.8 894.6C424.6 893 426.8 889.9 428.6 889.9C430.3 889.8 431.9 892.8 433.3 894.4C434.7 896.1 437 897.8 437.1 899.8C437.2 901.9 435.1 904.6 433.7 906.8C432.3 909 430.6 912.5 428.8 913.1C426.9 913.7 424.4 911.7 422.7 910.6Z" transform="translate(2 3)"/><path d="M630.9 903.7C630.9 905.6 630.5 908.5 628.9 909.7C627.3 911 623.7 911.2 621.2 911.1C618.6 911 615.2 910.3 613.6 908.9C611.9 907.5 611.5 904.8 611.3 902.9C611.1 901.1 611.4 899.1 612.4 897.7C613.4 896.3 615.4 895.1 617.3 894.5C619.2 893.9 622.2 893.5 624.1 894.2C625.9 894.9 627.3 897 628.4 898.6C629.6 900.2 630.8 901.9 630.9 903.7Z" transform="translate(2 3)"/><path d="M610 910.6C608.3 911.3 605.8 910.4 603.8 909.9C601.9 909.4 599.3 909 598.3 907.7C597.2 906.3 597.5 903.6 597.6 901.7C597.7 899.8 597.9 897.8 598.9 896.4C599.9 894.9 601.9 893.4 603.7 893.1C605.4 892.8 608 893.4 609.5 894.5C611 895.5 612 897.6 612.8 899.4C613.5 901.2 614.3 903.6 613.9 905.4C613.4 907.3 611.7 909.9 610 910.6Z" transform="translate(2 3)"/><path d="M380.1 917.6C378.6 915.9 378.6 912.4 378.8 909.7C379.1 907.1 379.9 903.9 381.6 901.6C383.2 899.3 386.1 897.2 388.6 896C391.1 894.7 394.9 893.5 396.7 894.4C398.5 895.2 398.8 898.7 399.3 900.8C399.8 903 400.2 904.8 399.7 907.3C399.3 909.8 398.6 913.8 396.6 915.9C394.6 918 390.5 919.6 387.7 919.9C385 920.2 381.6 919.3 380.1 917.6Z" transform="translate(2 3)"/><path d="M381.7 909.1C381.3 910.7 379.7 912.4 378.1 913.1C376.5 913.8 373.9 913.7 371.9 913.4C369.9 913.2 368 912.7 366 911.7C364 910.7 360.5 909 360.2 907.5C359.8 906 362.5 904 363.8 902.8C365.2 901.5 366.6 900.3 368.5 899.9C370.3 899.5 373 899.6 375 900.2C377 900.9 379.5 902.3 380.6 903.8C381.7 905.3 382.1 907.6 381.7 909.1Z" transform="translate(2 3)"/><path d="M484.3 923.8C481.5 924.1 477.3 922.8 475.3 920.8C473.2 918.8 472 914.7 472 911.9C472 909.1 473.7 906.3 475.2 904.1C476.7 901.9 478.6 899.8 481 898.8C483.3 897.8 486.7 897.4 489.1 898.2C491.5 899.1 494.1 901.4 495.5 903.8C496.9 906.2 498.1 910.1 497.5 912.6C496.9 915.2 494 917.3 491.8 919.2C489.6 921 487 923.5 484.3 923.8Z" transform="translate(2 3)"/><path d="M583.1 913.1C583 915.2 581.8 918 579.9 919.4C578 920.8 574.5 921.5 571.8 921.4C569 921.3 565.4 920.4 563.3 918.8C561.3 917.2 559.8 914 559.6 911.8C559.5 909.6 561 907.2 562.5 905.6C563.9 904.1 566.1 903.2 568.3 902.5C570.6 901.8 573.9 900.4 576 901.2C578 901.9 579.3 905 580.5 907C581.7 908.9 583.2 911 583.1 913.1Z" transform="translate(2 3)"/><path d="M509.2 914.1C508.9 912.3 508.6 909.7 509.6 908.3C510.6 906.9 513.1 906.5 515 906C516.8 905.4 519 904.4 520.6 904.9C522.2 905.4 523.4 907.4 524.5 909.1C525.6 910.8 527.8 913.3 527.4 914.9C527 916.5 523.9 917.9 522.1 918.9C520.4 919.9 518.8 921 517 921.1C515.3 921.1 512.8 920.4 511.5 919.3C510.2 918.1 509.5 915.9 509.2 914.1Z" transform="translate(2 3)"/><path d="M502.5 922.2C500.5 922.6 497.2 923.1 495.7 921.9C494.1 920.7 493.4 917.1 493.3 914.9C493.3 912.7 494.5 910.7 495.5 908.8C496.6 906.9 497.7 904.5 499.4 903.7C501.2 903 503.9 903.3 505.8 904C507.7 904.8 510 906.3 511 908.1C512 910 512.3 913.2 511.8 915.1C511.2 917 509.1 918.6 507.5 919.8C506 921 504.4 921.9 502.5 922.2Z" transform="translate(2 3)"/><path d="M462.4 925.6C459.7 924.4 456 921.7 455 919.5C453.9 917.3 455.2 914.3 456 912.2C456.8 910.2 457.9 908.5 459.7 907.2C461.6 905.8 464.7 903.5 467 904C469.4 904.5 471.8 908.3 473.6 910.3C475.3 912.3 477.1 913.9 477.7 915.9C478.2 917.8 477.9 920.2 476.9 922C475.9 923.8 474 926 471.6 926.6C469.2 927.2 465.2 926.8 462.4 925.6Z" transform="translate(2 3)"/><path d="M624.3 918.4C623.8 920.4 622.6 921.8 621.4 923.4C620.1 925.1 618.6 927.8 616.9 928.3C615.1 928.7 612.5 927.4 611 926C609.6 924.5 608.6 921.9 608.2 919.6C607.9 917.3 607.8 913.8 608.9 912.1C609.9 910.3 612.8 909.8 614.6 909.3C616.4 908.7 617.9 908.4 619.6 908.8C621.2 909.2 623.7 910.1 624.5 911.7C625.2 913.3 624.8 916.4 624.3 918.4Z" transform="translate(2 3)"/><path d="M442 921.7C440.8 919.4 439 916.8 438.9 914.5C438.9 912.2 440.1 908.9 441.7 907.8C443.3 906.6 446.4 906.8 448.5 907.4C450.6 907.9 452.8 909.4 454.4 911.1C456.1 912.8 457.8 915.3 458.3 917.5C458.7 919.7 458.2 922.5 457.4 924.4C456.5 926.3 454.8 928 453 928.7C451.1 929.5 447.9 929.8 446.1 928.7C444.3 927.5 443.2 924.1 442 921.7Z" transform="translate(2 3)"/><path d="M556.6 925.8C554.7 927.2 552.1 927.8 549.9 928C547.6 928.2 544.4 928.4 543.1 927.2C541.7 926 541.7 922.9 541.8 920.9C541.8 918.8 542.4 916.9 543.5 914.9C544.5 913 546.2 909.8 548.1 909.1C549.9 908.3 552.9 909.8 554.5 910.6C556.2 911.5 556.8 912.8 558 914.3C559.2 915.9 562 917.8 561.8 919.8C561.5 921.7 558.6 924.4 556.6 925.8Z" transform="translate(2 3)"/><path d="M411.3 927.5C409.4 927.8 407 926.6 405.5 925.7C404 924.7 403.1 923.4 402.2 921.8C401.2 920.3 399.3 918 399.7 916.4C400.1 914.8 402.7 913.2 404.5 912.2C406.3 911.2 408.4 910.4 410.4 910.4C412.3 910.5 415.1 911.3 416.3 912.6C417.4 913.9 417.1 916.3 417.3 918.2C417.4 920.2 418.2 922.7 417.2 924.2C416.2 925.8 413.3 927.3 411.3 927.5Z" transform="translate(2 3)"/><path d="M421.2 921.7C420.8 919.5 421.5 916 423 914.5C424.4 912.9 427.5 913.3 429.8 912.6C432.1 911.8 434.8 909.5 436.6 910.1C438.4 910.7 439.8 913.9 440.7 916C441.6 918.1 442.4 920.5 442 922.5C441.6 924.4 439.8 926.5 438.1 927.8C436.4 929.2 433.9 930.6 431.7 930.6C429.6 930.6 427 929.2 425.3 927.8C423.5 926.3 421.6 924 421.2 921.7Z" transform="translate(2 3)"/><path d="M382.1 927.5C381.1 929 378.4 930.4 376.6 930.4C374.7 930.3 372.7 928.4 370.8 927.2C368.9 926 366.3 925.1 365.3 923.3C364.2 921.5 363.6 917.9 364.5 916.4C365.4 914.8 368.6 914.9 370.5 914.1C372.4 913.3 374 911.4 375.8 911.6C377.7 911.8 380.5 913.8 381.7 915.4C382.8 917.1 382.6 919.6 382.6 921.6C382.7 923.6 383.1 926.1 382.1 927.5Z" transform="translate(2 3)"/><path d="M601.8 922.1C601.9 924.6 600.5 928.6 598.9 930.2C597.3 931.9 594.3 931.9 592.2 931.9C590.2 931.8 587.9 931.4 586.5 929.9C585.2 928.5 584.6 925.8 584.2 923.4C583.7 921.1 583.1 917.8 583.9 915.8C584.7 913.8 587.2 912.6 589.1 911.4C591 910.3 593.6 908.4 595.2 909C596.8 909.6 597.6 913.1 598.7 915.3C599.8 917.5 601.8 919.6 601.8 922.1Z" transform="translate(2 3)"/><path d="M534.9 932.9C533.5 934.3 530.6 935.1 528.3 935.2C526.1 935.3 522.9 935 521.3 933.6C519.8 932.2 519.2 929.1 519 926.9C518.8 924.8 519.3 922.7 520.1 920.6C521 918.4 522.3 915 524.3 914.2C526.2 913.3 529.4 914.8 531.8 915.6C534.2 916.5 537.6 917.4 538.5 919.3C539.3 921.1 537.4 924.3 536.8 926.6C536.2 928.9 536.3 931.5 534.9 932.9Z" transform="translate(2 3)"/><path d="M402.1 930.8C401.1 933.2 397 934.2 394.7 935.6C392.4 937 390.5 939.1 388.4 939.1C386.3 939.1 383.7 937.3 382.1 935.5C380.6 933.8 379.3 931 379.2 928.6C379.2 926.2 380.4 923.5 381.7 921.1C383 918.8 385.1 915.1 387.1 914.5C389.2 914 391.9 916.5 394.2 917.6C396.6 918.8 399.9 919.2 401.3 921.4C402.6 923.6 403.2 928.5 402.1 930.8Z" transform="translate(2 3)"/><path d="M474.7 932.4C473.6 930.8 471.9 929.3 471.8 927.3C471.7 925.4 472.8 922.6 474.3 920.9C475.8 919.1 478.7 917.1 480.9 916.8C483 916.6 485.3 918.3 487.2 919.4C489.2 920.6 492.1 921.9 492.5 923.8C492.9 925.6 490.9 928.5 489.7 930.5C488.5 932.5 487.2 934.5 485.3 935.6C483.5 936.8 480.3 937.7 478.5 937.2C476.7 936.6 475.8 934 474.7 932.4Z" transform="translate(2 3)"/><path d="M565.9 933.7C564.8 931.4 564.5 927.4 565.3 925C566.1 922.7 568.5 920.9 570.6 919.5C572.8 918.1 575.6 916.2 578.1 916.7C580.6 917.1 583.9 919.7 585.5 922.2C587.1 924.6 588.1 928.7 587.8 931.4C587.6 934.2 585.6 936.7 583.9 938.4C582.3 940.1 580 941.5 577.9 941.6C575.9 941.7 573.7 940.1 571.7 938.8C569.7 937.5 566.9 936 565.9 933.7Z" transform="translate(2 3)"/><path d="M551.4 938.2C549.7 936.3 547 933.7 547 931.9C547 930 550 928.4 551.4 926.9C552.8 925.5 553.7 923.4 555.3 923C557 922.6 559.7 923.7 561.4 924.7C563.2 925.8 565 927.8 565.7 929.5C566.4 931.3 566.3 933.7 565.8 935.3C565.3 937 564.1 938 562.7 939.4C561.2 940.7 559.2 943.5 557.3 943.3C555.4 943.1 553.1 940.1 551.4 938.2Z" transform="translate(2 3)"/><path d="M456.8 941C454.9 941.3 451.4 941.5 450.1 940.3C448.7 939.1 448.9 935.9 448.8 933.8C448.7 931.8 448.4 929.7 449.2 928C450.1 926.4 452.1 924.8 454.1 924C456 923.2 459.1 922.5 461 923.2C462.8 924 464.1 926.6 465.1 928.5C466.1 930.4 467.5 933 466.9 934.7C466.4 936.3 463.5 937.4 461.8 938.4C460.1 939.5 458.8 940.7 456.8 941Z" transform="translate(2 3)"/><path d="M410.2 942.9C408.2 943.1 405 942.4 403.3 941C401.6 939.7 400.5 937 400.2 934.8C399.9 932.7 400.4 930 401.5 928.2C402.7 926.4 405.1 924.2 407 923.9C409 923.5 411.4 925.3 413.4 926.1C415.3 927 417.8 927.6 418.7 929.1C419.6 930.5 419.3 933.2 418.7 934.9C418.2 936.7 417 938.1 415.6 939.4C414.1 940.8 412.2 942.6 410.2 942.9Z" transform="translate(2 3)"/><path d="M622.8 934C622.7 936.2 620.4 938.7 618.9 940.5C617.4 942.3 615.7 944.3 613.8 944.8C611.9 945.3 609 944.6 607.5 943.3C605.9 941.9 604.9 938.9 604.5 936.7C604.1 934.4 604.2 931.6 604.9 929.6C605.6 927.5 607.1 925.5 608.8 924.2C610.5 922.9 613.2 921 615 921.5C616.8 922 618.3 925 619.6 927.1C620.9 929.1 622.9 931.7 622.8 934Z" transform="translate(2 3)"/><path d="M420 941.2C418.3 940.1 415.5 938.5 414.9 936.7C414.4 935 415.5 931.9 416.6 930.5C417.8 929.2 420.1 929 422 928.4C423.8 927.8 425.8 926.6 427.7 927C429.7 927.4 432.5 929.1 433.6 930.9C434.7 932.7 434.9 935.8 434.4 937.7C433.8 939.5 431.9 941.1 430.3 942C428.8 943 426.8 943.5 425.1 943.4C423.4 943.2 421.7 942.3 420 941.2Z" transform="translate(2 3)"/><path d="M487.6 935.7C487.8 933.4 488.4 931.2 489.5 929.2C490.7 927.3 492.6 924.7 494.6 924.2C496.5 923.8 499.3 925.2 501.1 926.5C502.8 927.8 504.2 929.9 505 932.1C505.9 934.2 506.6 937.1 506 939.4C505.5 941.7 503.7 944.4 501.8 945.8C499.9 947.2 496.9 948.1 494.6 947.7C492.4 947.3 489.6 945.2 488.5 943.2C487.3 941.2 487.4 938 487.6 935.7Z" transform="translate(2 3)"/><path d="M592.2 948.6C590.6 948.3 588.8 946.6 587.7 945C586.5 943.4 585.7 941.2 585.4 939C585.1 936.9 585.1 934.3 585.8 932C586.5 929.8 587.9 926.5 589.4 925.7C590.9 925 593.4 926.3 595 927.3C596.7 928.3 598.3 929.8 599.3 931.9C600.4 933.9 601.6 937.3 601.3 939.7C601 942.1 599.1 944.7 597.5 946.2C596 947.7 593.9 948.8 592.2 948.6Z" transform="translate(2 3)"/><path d="M524.8 941.9C523.6 944.9 521.6 948.1 519.5 949.5C517.5 950.9 514.8 950.4 512.5 950.2C510.3 950 507.8 949.9 506.1 948.3C504.3 946.7 501.8 943.3 501.9 940.4C502 937.5 504.7 933.3 506.6 931.1C508.5 928.9 511.1 928 513.4 927.2C515.7 926.4 518.2 925.5 520.4 926.3C522.6 927 525.9 929 526.7 931.6C527.4 934.2 526 938.9 524.8 941.9Z" transform="translate(2 3)"/><path d="M434.2 953C431.9 952.2 428.9 949.8 428.2 947.5C427.5 945.2 429.4 941.9 430.1 939.1C430.8 936.4 430.9 932.5 432.6 931C434.4 929.4 438.3 929.3 440.6 929.7C442.9 930.1 444.6 931.9 446.3 933.6C448 935.2 450.8 937.3 450.9 939.5C450.9 941.6 448.1 944.2 446.6 946.3C445.1 948.4 443.9 950.9 441.9 952C439.8 953.2 436.4 953.8 434.2 953Z" transform="translate(2 3)"/><path d="M468.2 947.5C466.4 946.5 464.1 944.9 463.4 943.2C462.7 941.6 463.2 939.3 463.8 937.5C464.3 935.7 465.2 933.4 466.9 932.5C468.5 931.6 471.8 931.3 473.8 932.1C475.7 932.9 477.1 935.5 478.3 937.2C479.5 938.9 480.6 940.5 481 942.3C481.3 944.2 481.4 947.1 480.2 948.3C479 949.6 476 949.9 474 949.8C472 949.7 469.9 948.6 468.2 947.5Z" transform="translate(2 3)"/><path d="M545.9 943.9C546 946.4 544.6 950.6 542.9 952.2C541.3 953.8 538.4 953.2 536.1 953.5C533.8 953.8 530.9 955 529.1 953.8C527.2 952.6 525.6 949 525.2 946.2C524.7 943.5 525.2 939.6 526.4 937.3C527.5 934.9 530.1 933.2 532.1 932.1C534.2 931.1 537 930.4 538.7 931.2C540.5 932 541.4 935 542.6 937.1C543.8 939.2 545.9 941.4 545.9 943.9Z" transform="translate(2 3)"/><path d="M374.7 952.6C373.4 950.5 372.3 948.6 372 946.3C371.7 944 371.7 940.5 373 938.8C374.4 937.2 377.8 936.2 380 936.3C382.3 936.3 384.8 937.7 386.7 939.1C388.6 940.5 390.3 942.2 391.4 944.4C392.6 946.7 394.1 950.2 393.5 952.4C392.8 954.7 389.8 956.5 387.5 957.7C385.2 958.8 381.8 960.3 379.7 959.5C377.6 958.6 376 954.8 374.7 952.6Z" transform="translate(2 3)"/><path d="M389.5 949.5C389 947.6 388.4 944.9 389.6 943.1C390.8 941.2 394.2 939 396.8 938.4C399.4 937.8 402.3 938.9 404.9 939.5C407.6 940 411.3 940.3 412.5 941.7C413.7 943.1 412.5 945.9 412 948.1C411.6 950.3 411.8 954 409.9 955.1C408 956.3 403.3 955.1 400.5 955C397.7 954.9 394.8 955.4 393 954.5C391.2 953.6 390.1 951.4 389.5 949.5Z" transform="translate(2 3)"/><path d="M561.3 948.8C561.2 950.6 561.1 953.5 559.6 954.6C558.2 955.7 554.7 955.5 552.3 955.5C549.9 955.4 547.2 955.4 545.2 954.3C543.3 953.3 541.4 951 540.8 949.1C540.2 947.2 540.7 944.9 541.6 942.9C542.6 940.9 544.2 938.1 546.5 937.4C548.7 936.6 552.8 937.4 555.1 938.4C557.3 939.4 558.8 941.8 559.8 943.5C560.9 945.2 561.3 946.9 561.3 948.8Z" transform="translate(2 3)"/><path d="M602 958C600.9 956.8 601 954.1 601.1 952.1C601.3 950.1 601.8 948.2 602.8 946.2C603.8 944.2 605.4 941.2 607.3 940.1C609.1 939 612 939.3 613.9 939.8C615.9 940.3 618.3 941.2 619.2 943C620.1 944.7 620.2 948.1 619.3 950.3C618.4 952.4 615.6 954.2 613.7 955.8C611.8 957.3 609.8 959 607.8 959.4C605.9 959.8 603.1 959.3 602 958Z" transform="translate(2 3)"/><path d="M476.2 954.4C475.7 952.9 475 950.4 476.1 949.2C477.2 948 480.7 947.5 482.9 947.2C485 946.9 486.9 946.8 489 947.2C491.2 947.6 494.6 948.3 495.5 949.6C496.4 950.9 495.3 953.6 494.4 955.1C493.5 956.6 491.6 957.9 489.9 958.7C488.2 959.4 486 959.9 484.2 959.9C482.4 959.8 480.4 959.1 479.1 958.2C477.7 957.3 476.7 955.9 476.2 954.4Z" transform="translate(2 3)"/><path d="M574.9 965.6C571.9 965.2 568.6 963.1 566.6 961.2C564.7 959.3 563.2 956.4 563.2 954.2C563.1 952 565 949.8 566.6 947.9C568.1 946 570.2 943.2 572.5 942.9C574.8 942.5 577.7 945 580.4 946C583.2 947 587.7 947.2 589 949C590.3 950.7 589 954.1 588.2 956.6C587.5 959 586.8 962.1 584.6 963.6C582.3 965.1 577.9 966 574.9 965.6Z" transform="translate(2 3)"/><path d="M406.4 956.8C406.1 954.3 409.2 951.5 410.5 948.7C411.8 946 412.3 941.8 414.4 940.4C416.6 939 421.2 938.9 423.4 940.4C425.5 941.9 426.2 946.6 427.5 949.5C428.7 952.4 431 955 431 957.9C431 960.9 429.4 964.9 427.4 966.9C425.4 968.9 421.6 970.5 419.1 970C416.6 969.5 414.4 966.1 412.3 964C410.2 961.8 406.7 959.4 406.4 956.8Z" transform="translate(2 3)"/><path d="M467.5 960.2C466.8 962.9 464.3 966.4 462 968.2C459.7 970.1 456.2 971.7 453.7 971.3C451.2 971 448.5 968.8 447.1 966.4C445.7 964 444.8 960 445.3 957C445.8 954 448.4 951 450.3 948.6C452.2 946.1 454.6 942.7 456.9 942.1C459.1 941.6 462 943.7 463.5 945.3C465.1 946.9 465.5 949.4 466.2 951.9C466.9 954.4 468.2 957.5 467.5 960.2Z" transform="translate(2 3)"/><path d="M585.2 959C584.8 957.6 586.3 955.6 587.5 954C588.7 952.3 590.2 949.9 592.3 949.2C594.4 948.5 598 949.1 600.1 949.7C602.2 950.4 604 951.7 604.9 953C605.9 954.4 605.9 956.2 605.5 957.8C605.1 959.4 604.3 961.6 602.6 962.8C600.9 964 597.4 965 595.3 964.9C593.2 964.8 591.8 963 590.1 962C588.4 961 585.6 960.3 585.2 959Z" transform="translate(2 3)"/><path d="M439.9 966.4C437.5 966.1 435.1 965.3 433.4 964.1C431.6 962.9 429.4 960.8 429.3 959.2C429.1 957.5 431.3 955.7 432.6 954.1C433.9 952.6 435.2 950.5 437.1 950C438.9 949.5 442 950.6 443.8 951.4C445.6 952.2 447.2 953.7 448 955.1C448.7 956.5 448.4 958 448.3 959.7C448.2 961.4 448.7 964.4 447.3 965.5C445.9 966.7 442.2 966.6 439.9 966.4Z" transform="translate(2 3)"/><path d="M529.2 964.4C528.4 965.8 527.5 967.6 525.7 968.2C524 968.8 520.9 968.8 518.7 968C516.4 967.2 513.5 965.2 512.3 963.4C511 961.6 510.9 959 511.3 957.4C511.6 955.8 513 954.8 514.4 953.6C515.7 952.5 517.4 950.6 519.3 950.7C521.2 950.9 523.8 953.1 525.7 954.6C527.5 956 530 957.8 530.6 959.4C531.2 961 530 962.9 529.2 964.4Z" transform="translate(2 3)"/><path d="M491.4 962.2C491 959.9 491.6 956.5 492.9 954.6C494.2 952.7 497 951.1 499.1 950.8C501.2 950.6 503.5 952 505.3 953.1C507.1 954.1 509 955.2 510.1 957C511.3 958.8 512.6 962 512.1 964C511.6 966 508.9 967.8 507.1 968.9C505.3 969.9 503.3 970.3 501.3 970.2C499.4 970.1 497.1 969.6 495.4 968.3C493.8 966.9 491.8 964.5 491.4 962.2Z" transform="translate(2 3)"/><path d="M409 969.3C407.7 970.9 406.3 972.8 404.5 973.5C402.7 974.3 399.7 974.6 398.2 973.7C396.7 972.9 396.1 970.3 395.6 968.4C395 966.4 394.1 963.7 395 962C395.9 960.4 398.9 959.7 400.8 958.5C402.7 957.4 404.9 955.2 406.4 955.4C407.9 955.6 408.7 958.3 409.7 959.8C410.7 961.3 412.5 962.6 412.4 964.2C412.3 965.8 410.4 967.8 409 969.3Z" transform="translate(2 3)"/><path d="M471.2 978.6C469.1 977.5 466.8 975.5 466 973.4C465.1 971.2 465.7 968.4 466.1 965.7C466.5 962.9 466.5 958.8 468.2 956.9C470 954.9 474 954 476.8 954C479.6 954.1 483.3 955.1 484.9 957.1C486.4 959.1 486 962.9 486.1 965.8C486.3 968.7 487.1 972 485.9 974.3C484.7 976.7 481.5 979.2 479 980C476.6 980.7 473.4 979.7 471.2 978.6Z" transform="translate(2 3)"/><path d="M542 976.6C539.4 975 534.6 974 533.9 972C533.3 969.9 536.7 966.6 538 964.1C539.2 961.7 539.4 958.7 541.4 957.1C543.5 955.5 547.9 953.8 550.4 954.6C552.9 955.4 555.3 959.4 556.5 961.8C557.7 964.2 557.8 966.8 557.7 969.2C557.5 971.5 557 973.8 555.6 975.9C554.2 977.9 551.6 981.4 549.3 981.5C547.1 981.6 544.5 978.2 542 976.6Z" transform="translate(2 3)"/><path d="M428.4 976.5C427 975 425.9 972.8 425.7 971C425.5 969.1 426 967 427 965.4C427.9 963.7 429.6 961.1 431.3 960.9C433 960.7 435.3 963.1 437.2 964.2C439.1 965.3 441.6 965.8 442.7 967.4C443.8 969 444.3 972.2 443.8 974C443.2 975.8 441 977.2 439.3 978.1C437.7 979.1 435.6 980.1 433.7 979.9C431.9 979.6 429.7 978 428.4 976.5Z" transform="translate(2 3)"/><path d="M535.8 979C534.2 979.7 532.2 979.6 530.5 979.2C528.8 978.8 526.9 977.9 525.5 976.6C524.1 975.2 522.1 972.8 521.9 970.9C521.7 969.1 523.1 966.8 524.3 965.3C525.4 963.9 527.1 962.6 528.9 962.3C530.6 962 533.3 962.2 534.8 963.3C536.4 964.4 537.2 966.9 538 968.9C538.8 970.8 540.1 973.3 539.7 975C539.3 976.7 537.3 978.3 535.8 979Z" transform="translate(2 3)"/><path d="M572 973.2C571.3 971 570.4 967.5 571.9 965.6C573.5 963.8 578.2 962.7 581.3 962.1C584.4 961.5 588.1 961 590.5 961.8C592.9 962.6 594.7 965.1 595.7 966.9C596.8 968.8 597.5 971.1 596.9 973.1C596.2 975 594.1 976.8 591.9 978.4C589.7 980.1 586.4 983 583.7 983C581.1 983.1 578 980.4 576 978.8C574.1 977.1 572.7 975.4 572 973.2Z" transform="translate(2 3)"/><path d="M553.3 978.7C552.6 977.1 554.4 973.8 555.7 971.8C556.9 969.8 558.7 968 561 966.5C563.2 965.1 566.6 963 569.1 963C571.7 962.9 574.7 964.5 576.3 966C578 967.5 579.1 969.9 579 972.2C578.9 974.4 577.7 977.5 575.7 979.3C573.8 981.2 570 982.8 567.4 983.1C564.8 983.5 562.5 982.3 560.1 981.6C557.8 980.8 554.1 980.3 553.3 978.7Z" transform="translate(2 3)"/><path d="M483.7 981.2C483.4 978.5 482.3 975.7 483.5 973.4C484.8 971.2 488.2 968.8 491.2 967.8C494.2 966.8 498.5 966.6 501.3 967.5C504.2 968.4 507 971 508.2 973.2C509.4 975.5 509.4 978.8 508.5 981C507.5 983.2 504.8 985 502.6 986.5C500.4 988.1 497.9 990 495 990.5C492.1 990.9 487.2 990.7 485.3 989.1C483.5 987.6 484 983.8 483.7 981.2Z" transform="translate(2 3)"/><path d="M429.2 984.8C428.4 986.7 426.1 989.3 424.1 989.8C422.1 990.4 419.4 989 417.1 988.1C414.9 987.3 411.7 986.5 410.6 984.7C409.5 983 410.2 979.8 410.6 977.5C411.1 975.2 411.7 972.1 413.3 971C414.9 969.9 418.3 970.5 420.4 970.9C422.5 971.3 424.4 972 425.9 973.2C427.3 974.4 428.5 976.3 429.1 978.2C429.6 980.2 430 982.8 429.2 984.8Z" transform="translate(2 3)"/><path d="M461.3 982.4C460.7 985.3 461 989.3 459 991.3C457.1 993.2 452.2 994.8 449.5 994.1C446.9 993.5 444.8 989.4 443.2 987.2C441.6 985 440.4 983.3 439.8 980.9C439.2 978.6 438.6 975 439.8 972.9C441 970.8 444.2 968.9 446.8 968.2C449.4 967.4 452.7 967.5 455.3 968.5C457.9 969.4 461.4 971.6 462.4 973.9C463.4 976.2 461.9 979.5 461.3 982.4Z" transform="translate(2 3)"/><path d="M413.2 989.2C411.9 990.8 408.8 991.3 406.5 991.5C404.2 991.7 401 991.5 399.4 990.2C397.8 988.9 397.3 985.8 396.7 983.8C396.2 981.7 395.6 979.6 396.2 977.8C396.7 976.1 398.3 974.1 399.9 973.3C401.6 972.4 404.3 972.4 406.1 973C408 973.5 409.7 975.2 411 976.7C412.4 978.3 414 980.2 414.4 982.3C414.7 984.4 414.5 987.7 413.2 989.2Z" transform="translate(2 3)"/><path d="M459.7 986.4C458.9 985.2 458.9 983.4 459.3 981.6C459.7 979.9 460.4 977.5 462 976C463.6 974.5 466.9 972.6 468.8 972.6C470.7 972.6 471.9 974.9 473.2 976.1C474.5 977.2 476.3 977.9 476.5 979.3C476.7 980.7 475.3 982.8 474.1 984.4C473 985.9 471.4 988.1 469.7 988.8C468 989.5 465.6 989 463.9 988.6C462.2 988.2 460.5 987.6 459.7 986.4Z" transform="translate(2 3)"/><path d="M521.3 996.3C519.7 996.8 517 994.6 515.1 993.3C513.3 992 511.3 990.7 510.1 988.5C509 986.4 507.6 982.6 508 980.4C508.5 978.2 511 976.4 512.8 975.3C514.5 974.3 516.7 973.5 518.4 974C520 974.5 521.3 976.8 522.9 978.4C524.6 980.1 527.9 982 528.2 983.9C528.5 985.9 525.8 988.1 524.7 990.1C523.6 992.2 522.9 995.7 521.3 996.3Z" transform="translate(2 3)"/><path d="M572.7 994.6C571.5 993.4 570 991.3 570.3 989.4C570.6 987.4 572.9 984.5 574.7 982.9C576.5 981.3 579.2 980.2 581.2 979.8C583.1 979.4 585 980 586.4 980.6C587.9 981.3 589.3 982.2 589.9 983.7C590.6 985.2 591.4 988 590.4 989.7C589.4 991.3 586.1 992.6 584 993.8C581.9 994.9 579.8 996.6 577.9 996.8C576 996.9 574 995.9 572.7 994.6Z" transform="translate(2 3)"/><path d="M489.3 998.2C488.2 999.6 486.6 1001.1 484.8 1001.3C483.1 1001.6 481 1000.6 478.9 999.8C476.9 999 473.5 998.1 472.5 996.4C471.5 994.8 472.4 991.8 473 989.9C473.7 988.1 474.8 986.7 476.3 985.4C477.8 984.1 480.2 982.1 482.3 982.3C484.3 982.5 487.2 985 488.7 986.8C490.2 988.6 491.4 991.1 491.5 993C491.6 994.9 490.4 996.8 489.3 998.2Z" transform="translate(2 3)"/><path d="M538.3 1003.6C536.6 1002.7 535.1 1001.5 534.2 999.7C533.3 997.9 532.6 995.2 532.8 992.8C533.1 990.4 534.1 986.9 535.5 985.3C536.9 983.8 539.4 983.7 541.1 983.6C542.9 983.4 544.7 983.2 546 984.2C547.3 985.2 548.8 987.4 549 989.4C549.2 991.4 548 993.8 547.3 996.3C546.5 998.9 546 1003.5 544.5 1004.7C543 1005.9 540 1004.4 538.3 1003.6Z" transform="translate(2 3)"/><path d="M466.3 998.2C465.4 1000.1 463.4 1001.7 461.5 1002.7C459.7 1003.7 457 1004.6 455.3 1004C453.5 1003.5 452.1 1001.1 451.2 999.4C450.4 997.6 449.9 995.6 450.1 993.6C450.2 991.6 450.8 988.7 452.1 987.3C453.5 985.9 456.3 984.9 458.1 984.9C460 984.9 461.9 986.1 463.4 987.2C464.8 988.4 466.4 989.9 466.9 991.8C467.4 993.6 467.2 996.4 466.3 998.2Z" transform="translate(2 3)"/><path d="M565.2 999.3C564.1 1000.7 561.2 1000.8 559.3 1001.4C557.4 1002 555.3 1003.5 553.6 1003.1C551.9 1002.6 550.3 1000.3 549.1 998.7C548 997.1 546.4 995 546.6 993.4C546.7 991.8 548.5 990.2 549.9 989.2C551.3 988.3 553.1 987.9 554.8 987.8C556.6 987.7 558.5 988 560.3 988.8C562.1 989.7 565 991.2 565.8 992.9C566.6 994.7 566.3 997.9 565.2 999.3Z" transform="translate(2 3)"/><path d="M445.7 1003.9C443.4 1005 440.4 1005.6 438.5 1005.3C436.6 1004.9 435.4 1003.1 434.1 1001.8C432.8 1000.5 430.8 999 430.9 997.3C430.9 995.6 432.8 993.1 434.4 991.4C436 989.7 438.3 987.9 440.6 987.2C442.8 986.6 445.8 986.7 447.8 987.4C449.8 988.2 451.8 989.9 452.5 991.8C453.3 993.7 453.5 996.8 452.3 998.9C451.2 1000.9 448 1002.9 445.7 1003.9Z" transform="translate(2 3)"/><path d="M563.9 1003.1C562.9 1002.2 562.4 1000.8 562.1 999.1C561.7 997.3 560.7 994.5 561.7 992.7C562.7 990.9 565.8 989.1 567.8 988.3C569.8 987.5 571.9 987.4 573.7 987.7C575.4 988.1 577.3 988.9 578.1 990.4C579 991.9 579.2 994.8 578.5 996.8C577.7 998.8 575.5 1001.1 573.7 1002.4C572 1003.7 569.9 1004.4 568.2 1004.5C566.6 1004.7 565 1004.1 563.9 1003.1Z" transform="translate(2 3)"/><path d="M427.6 1008.6C425.6 1009.3 423 1011 421.3 1009.9C419.6 1008.7 418.8 1004.3 417.6 1001.6C416.4 998.9 414.1 996.1 414.1 993.8C414.1 991.6 416.3 989.7 417.8 988.1C419.3 986.5 421.2 984.1 423 984.4C424.8 984.8 426.9 987.9 428.7 990C430.4 992.1 432.7 994.2 433.5 996.8C434.3 999.5 434.6 1004.1 433.6 1006C432.7 1008 429.7 1008 427.6 1008.6Z" transform="translate(2 3)"/><path d="M510.1 1007.9C508.4 1008 506.9 1007.3 505.4 1006.5C503.8 1005.6 501.7 1004.5 501 1002.8C500.2 1001.2 500.8 998.9 501 996.7C501.1 994.6 500.7 991 501.8 989.9C502.9 988.7 505.7 989.5 507.6 989.9C509.5 990.3 512 990.6 513.1 992.1C514.3 993.5 514.1 996.5 514.5 998.8C514.8 1001.1 516 1004.3 515.3 1005.9C514.6 1007.4 511.8 1007.8 510.1 1007.9Z" transform="translate(2 3)"/><path d="M530 1006.8C528 1008.5 524.6 1010.9 522.6 1010.9C520.6 1010.9 519.4 1008.1 518 1006.8C516.6 1005.4 514.2 1004.4 514.2 1002.6C514.2 1000.9 516.4 998 518 996.4C519.6 994.7 521.9 993.5 523.9 992.7C525.9 991.9 528.1 991.6 530.2 991.8C532.2 992 535.4 992.6 536.2 994.1C536.9 995.7 535.5 998.8 534.4 1001C533.4 1003.1 531.9 1005.2 530 1006.8Z" transform="translate(2 3)"/><path d="M473.6 1017.9C472.1 1016.8 471.2 1014.3 470.9 1012.5C470.6 1010.7 471.1 1008.5 472 1007C472.8 1005.5 474.3 1004.5 476 1003.5C477.6 1002.6 479.9 1001.2 481.8 1001.5C483.7 1001.8 486.2 1003.6 487.3 1005.3C488.5 1007.1 489.2 1009.9 488.9 1012C488.5 1014 486.9 1016.2 485.3 1017.4C483.8 1018.6 481.5 1019 479.5 1019.1C477.6 1019.2 475 1019 473.6 1017.9Z" transform="translate(2 3)"/><path d="M547.3 1020.9C545.7 1021.2 543.3 1019.5 541.9 1018.1C540.5 1016.8 539.3 1014.6 539 1012.7C538.7 1010.8 539.1 1008.3 539.9 1006.7C540.8 1005.1 542.4 1004.2 544 1003.3C545.5 1002.5 547.3 1001.3 549.1 1001.6C550.8 1001.9 553.3 1003.3 554.3 1005C555.4 1006.7 555.7 1010 555.2 1011.9C554.7 1013.8 552.7 1014.9 551.4 1016.4C550.1 1017.9 548.9 1020.6 547.3 1020.9Z" transform="translate(2 3)"/><path d="M462.2 1018.4C459.9 1020.6 457.1 1023.3 454.4 1024.1C451.7 1024.8 447.5 1024.4 445.9 1022.9C444.4 1021.3 445.6 1017.3 445.2 1014.7C444.8 1012 442.7 1009.6 443.6 1007C444.4 1004.5 447.6 1001.1 450.2 999.5C452.9 997.9 457 996.8 459.5 997.4C462 997.9 463.8 1000.7 465.2 1002.9C466.7 1005 468.6 1007.9 468.1 1010.5C467.6 1013.1 464.4 1016.1 462.2 1018.4Z" transform="translate(2 3)"/><path d="M493.4 1022.8C491.4 1022.1 488.6 1021.4 487.8 1019.2C487 1017.1 487.3 1012.5 488.4 1009.9C489.5 1007.3 492.4 1005.3 494.5 1003.5C496.6 1001.8 499 999.4 500.8 999.4C502.6 999.4 504 1001.8 505.2 1003.4C506.5 1005.1 508.1 1006.7 508.3 1009.2C508.5 1011.6 507.7 1015.7 506.2 1018.1C504.8 1020.5 501.7 1022.7 499.6 1023.5C497.4 1024.3 495.3 1023.5 493.4 1022.8Z" transform="translate(2 3)"/><path d="M507.4 1021.1C506.8 1019.2 506.6 1017.1 507.5 1015C508.4 1012.9 510.5 1009.8 512.8 1008.7C515.1 1007.5 518.7 1008 521.4 1008.2C524.1 1008.3 527 1008.3 528.8 1009.4C530.7 1010.6 532.5 1012.8 532.6 1015.1C532.7 1017.3 531.5 1020.8 529.3 1022.8C527.2 1024.9 522.9 1026.8 519.9 1027.4C516.9 1027.9 513.2 1027.2 511.1 1026.2C509 1025.1 508 1023 507.4 1021.1Z" transform="translate(2 3)"/></g>
<path d="M474.1 774.7C473.9 777.1 474.5 780.9 472.8 782.1C471.1 783.4 466.8 782.5 464 782.3C461.3 782.2 458.4 782.3 456.3 781.1C454.2 779.8 452.1 777.2 451.6 775.1C451.1 772.9 452.1 770.5 453.2 768.3C454.2 766.1 455.6 762.9 458 761.8C460.4 760.8 464.8 761 467.5 762C470.2 762.9 473.3 765.4 474.4 767.5C475.5 769.6 474.4 772.3 474.1 774.7Z" fill="url(#kb)"/>
<path d="M496.4 781.5C495.1 783.8 491.4 784.5 488.9 785.9C486.3 787.3 483.2 790.3 481.1 789.9C479 789.4 477.2 785.6 476.2 783.2C475.2 780.9 474.7 778.1 475.1 775.7C475.5 773.3 476.9 771 478.5 768.7C480.1 766.4 482.5 762.6 484.9 762C487.3 761.4 490.8 763.2 492.8 765C494.8 766.7 496.2 769.5 496.8 772.3C497.4 775 497.8 779.2 496.4 781.5Z" fill="url(#ka)"/>
<path d="M527 790.1C524.3 790.9 520.7 790.9 518 789.8C515.3 788.7 512 786 511 783.4C509.9 780.8 510.8 776.8 511.6 774.2C512.5 771.6 514.1 769.7 516 767.9C518 766.2 520.7 763.6 523 763.7C525.4 763.9 528.1 766.7 529.9 768.6C531.8 770.6 533.3 772.8 534.1 775.5C534.9 778.2 535.9 782.5 534.8 784.9C533.6 787.4 529.8 789.2 527 790.1Z" fill="url(#ke)"/>
<path d="M453.8 786.8C452.8 788.2 449.9 789.1 447.7 789.1C445.5 789.2 442.3 788.4 440.6 786.9C438.8 785.5 438 782.5 437.3 780.4C436.6 778.2 435.6 775.5 436.2 774C436.9 772.4 439.4 771.5 441.1 770.9C442.9 770.4 444.9 770.1 446.8 770.6C448.8 771.2 451.5 772.5 452.7 774.1C453.8 775.7 453.5 778.1 453.7 780.2C453.9 782.3 454.8 785.3 453.8 786.8Z" fill="url(#kb)"/>
<path d="M512.9 785.8C512.6 787.9 511 790.5 509.5 791.8C508 793 505.9 793.2 504.1 793.3C502.3 793.5 499.9 793.9 498.6 792.9C497.3 791.8 496.9 789.2 496.3 787.1C495.7 785.1 494.6 782.5 495.1 780.4C495.7 778.3 497.8 775.4 499.6 774.6C501.4 773.8 503.9 775.2 505.9 775.9C507.8 776.6 510.1 777.1 511.3 778.8C512.5 780.4 513.2 783.6 512.9 785.8Z" fill="url(#kb)"/>
<path d="M542.6 796.2C540 795.6 535.8 795.8 534.6 793.9C533.3 792 534.6 787.6 535.2 784.9C535.8 782.3 536.7 779.8 538.3 778C539.9 776.2 542.4 774.4 544.7 774.1C547 773.8 550 774.6 551.8 776C553.6 777.4 554.5 780 555.4 782.6C556.3 785.2 558.3 789 557.4 791.5C556.6 794 552.9 796.8 550.5 797.6C548 798.4 545.3 796.8 542.6 796.2Z" fill="url(#ka)"/>
<path d="M422.2 801.5C420.4 800.5 420.5 796 420 793C419.5 790.1 418.2 786.7 419.2 783.9C420.3 781.2 423.9 778.6 426.5 776.7C429 774.8 432.2 772.4 434.5 772.6C436.7 772.7 438.8 775.3 439.9 777.5C440.9 779.6 441.4 782.7 440.9 785.4C440.4 788 438.6 791 436.9 793.3C435.2 795.6 433.1 797.7 430.7 799C428.2 800.4 424 802.5 422.2 801.5Z" fill="url(#kb)"/>
<path d="M450.8 797.7C449.4 795.9 448.1 793.7 447.9 791.5C447.8 789.2 448.6 786.1 450.1 784.2C451.6 782.2 454.6 780.1 456.8 779.9C459 779.6 461.2 781.5 463.3 782.5C465.4 783.5 468.7 784.3 469.4 786.1C470.1 787.9 468.2 791 467.3 793.2C466.4 795.5 465.8 798.2 464 799.7C462.2 801.1 458.8 802.1 456.6 801.7C454.4 801.4 452.3 799.4 450.8 797.7Z" fill="url(#kc)"/>
<path d="M576.9 797.4C575.5 798.8 572.4 798.5 570.2 799.1C568 799.6 565.6 801.3 563.9 800.8C562.1 800.2 560.3 797.7 559.7 795.8C559.2 793.8 559.6 791 560.5 789.2C561.4 787.4 563.3 786.2 564.9 785C566.6 783.8 568.6 782 570.3 782C572 782.1 573.5 783.9 575 785.3C576.4 786.6 578.5 788.2 578.8 790.2C579.1 792.2 578.3 795.9 576.9 797.4Z" fill="url(#ka)"/>
<path d="M500.8 800.6C499.8 802.1 497.4 803.2 495.5 803.4C493.6 803.5 491.1 802.6 489.4 801.5C487.6 800.4 485.8 798.7 485 797C484.2 795.2 483.9 792.8 484.4 791.1C484.9 789.4 486.2 787.5 487.8 786.6C489.3 785.7 492 785.3 493.7 785.9C495.4 786.5 496.7 788.7 498 790.2C499.3 791.6 501.2 793 501.7 794.7C502.2 796.5 501.9 799.2 500.8 800.6Z" fill="url(#ke)"/>
<path d="M526.1 806.1C523.4 805.7 521.5 804.1 519.1 802.7C516.8 801.3 512.8 799.7 512.2 797.7C511.7 795.8 514.1 792.8 515.7 790.9C517.4 788.9 519.7 786.6 522.2 786C524.7 785.5 528.3 786.7 530.7 787.7C533 788.7 534.6 790.3 536.2 792.1C537.7 793.9 540 796.4 539.9 798.6C539.8 800.8 537.6 804 535.3 805.2C533 806.5 528.8 806.5 526.1 806.1Z" fill="url(#kb)"/>
<path d="M445.3 805.7C443.7 806 441.7 806.1 440.2 805.2C438.7 804.3 436.6 802.1 436.1 800.2C435.7 798.3 436.8 795.6 437.6 793.8C438.4 792 439.4 790.7 440.9 789.5C442.3 788.4 444.6 786.3 446.1 786.8C447.6 787.3 448.7 790.6 449.8 792.5C450.9 794.4 452.8 796.3 452.8 798.2C452.7 800 450.9 802.3 449.7 803.5C448.4 804.8 446.9 805.4 445.3 805.7Z" fill="url(#ke)"/>
<path d="M476.4 810C474.1 809.9 471.9 806.8 469.9 805.2C467.8 803.6 464.9 802.4 464.1 800.4C463.3 798.4 463.8 794.7 465.3 792.9C466.7 791.2 470.1 791 472.7 790C475.3 789 478.7 786.4 480.9 786.9C483.1 787.5 484.6 791.2 485.9 793.5C487.1 795.7 489 798.2 488.6 800.2C488.2 802.3 485.5 804.2 483.5 805.8C481.4 807.5 478.6 810.1 476.4 810Z" fill="url(#kb)"/>
<path d="M556.9 812.3C554.3 813.2 550.4 813.9 547.9 813.2C545.3 812.5 542.7 810.2 541.5 808.1C540.3 805.9 539.6 802.4 540.7 800.2C541.9 798.1 545.7 796.1 548.3 795.1C550.8 794.1 553.6 794.1 556 794.2C558.5 794.4 561 794.7 563 795.9C565 797 567.9 799.2 568 801.2C568.1 803.2 565.5 806 563.6 807.9C561.8 809.7 559.5 811.4 556.9 812.3Z" fill="url(#kc)"/>
<path d="M506.9 813C504.7 813.4 501.1 813.2 499.5 811.9C497.9 810.7 498.1 807.8 497.3 805.7C496.5 803.5 494 800.7 494.8 799.1C495.5 797.5 499.6 797.1 501.9 796.2C504.2 795.2 506.2 793.4 508.4 793.5C510.6 793.6 514 795.1 515.2 796.8C516.3 798.5 515.7 801.5 515.3 803.7C515 805.8 514.5 807.9 513.1 809.5C511.7 811.1 509.2 812.6 506.9 813Z" fill="url(#kc)"/>
<path d="M595.4 814.4C594.1 815.5 592.3 816.2 590.5 816.4C588.7 816.5 586.4 816.4 584.7 815.4C583 814.5 580.6 812.3 580.2 810.6C579.8 808.8 581.5 806.7 582.3 805C583.1 803.3 583.5 800.9 585 800.1C586.4 799.3 589.2 799.6 591 800.3C592.8 800.9 594.7 802.3 596 803.8C597.2 805.4 598.5 807.8 598.4 809.6C598.3 811.4 596.7 813.3 595.4 814.4Z" fill="url(#ke)"/>
<path d="M426.6 817.9C425.4 819.8 422.7 821.9 420.1 822C417.5 822 413.3 820.3 411.1 818.3C408.9 816.3 407.8 812.9 406.7 810.1C405.7 807.3 404.1 803.8 404.7 801.6C405.3 799.3 408.3 797.6 410.6 796.8C413 796.1 416 796.3 418.9 797.1C421.7 798 426 799.8 427.5 802C428.9 804.3 427.8 808.1 427.6 810.7C427.5 813.4 427.9 816.1 426.6 817.9Z" fill="url(#ka)"/>
<path d="M471.8 820.3C470.4 821.8 467.1 822.8 464.9 822.7C462.6 822.6 460 821.2 458.3 819.6C456.6 818 455.2 815.5 454.9 813.3C454.7 811.1 455.7 808.4 456.9 806.5C458.1 804.7 460.3 802.7 462.3 802.2C464.4 801.6 466.9 802.4 469 803.2C471.1 804 474.2 805.3 474.8 807C475.5 808.7 473.5 811.4 473 813.6C472.5 815.8 473.1 818.8 471.8 820.3Z" fill="url(#ka)"/>
<path d="M448.7 818.6C447.3 820.8 444.7 823.5 442.4 824.2C440.1 824.8 437 823.8 434.8 822.7C432.7 821.5 430.3 819.6 429.5 817.3C428.7 815 428.9 811.4 429.9 809.1C430.9 806.7 433.5 804 435.6 803.2C437.7 802.3 440 803.6 442.4 803.7C444.8 803.8 448.5 802.5 449.9 803.8C451.3 805.1 450.9 809 450.7 811.5C450.5 813.9 450.1 816.5 448.7 818.6Z" fill="url(#kc)"/>
<path d="M579.3 820.3C578.2 822.2 575.9 824.7 573.8 825.1C571.8 825.5 569 823.9 567 822.8C565 821.7 562.8 820.4 561.9 818.6C561 816.8 561.4 814.3 561.8 812.1C562.2 809.9 562.8 806.7 564.4 805.6C566 804.4 569 805.1 571.4 805.2C573.8 805.3 577.3 804.7 578.9 806.1C580.5 807.5 580.7 811.1 580.8 813.5C580.8 815.8 580.5 818.3 579.3 820.3Z" fill="url(#kb)"/>
<path d="M484.8 821.5C483.3 820.6 481.5 818.3 481.4 816.6C481.2 814.9 483 812.9 484 811.3C485.1 809.8 486 808.1 487.5 807.4C489 806.6 491.5 806.2 493 806.8C494.5 807.3 495.3 809.3 496.5 810.8C497.6 812.3 500.1 814.4 499.9 816C499.7 817.5 496.6 819.1 495 820.1C493.4 821.1 492.1 821.9 490.4 822.1C488.7 822.3 486.3 822.5 484.8 821.5Z" fill="url(#kc)"/>
<path d="M397.2 825C395.6 824.4 394.4 822.7 393.5 820.9C392.6 819 391.4 816.6 391.7 814.1C392 811.7 393.6 807.8 395.3 806.4C396.9 804.9 399.7 805.5 401.8 805.4C404 805.2 406.5 804.4 408.2 805.6C409.8 806.7 411.4 809.7 411.6 812.3C411.7 814.9 410.6 819 409.1 821C407.6 823 404.7 823.8 402.7 824.4C400.7 825.1 398.7 825.6 397.2 825Z" fill="url(#kc)"/>
<path d="M508.6 823.6C507.5 821.9 508.3 818.7 508.6 816.3C508.9 814 509 811 510.5 809.3C512 807.6 515.1 806.9 517.7 806.3C520.2 805.7 523.9 804.5 525.8 805.5C527.8 806.5 528.9 809.9 529.2 812.3C529.6 814.6 528.9 817.1 528 819.5C527 821.9 525.5 825.4 523.4 826.6C521.3 827.7 517.8 826.8 515.3 826.3C512.9 825.9 509.7 825.3 508.6 823.6Z" fill="url(#ka)"/>
<path d="M536.1 829.6C534.5 828.9 532.5 827.8 531.8 825.9C531.2 824 531.3 820.5 532.2 818.2C533.2 816 535.7 813.9 537.6 812.5C539.5 811.1 541.8 809.8 543.7 809.8C545.6 809.8 547.5 811.1 548.7 812.6C549.9 814.2 551.2 816.6 551 819C550.9 821.4 549.4 824.9 547.8 826.8C546.2 828.6 543.4 829.5 541.5 830C539.6 830.5 537.7 830.3 536.1 829.6Z" fill="url(#kc)"/>
<path d="M588.3 832C586.4 831.4 582.9 830.9 582.5 829.1C582 827.3 584.4 823.3 585.5 821.1C586.6 818.8 587.5 817.5 589.1 815.5C590.6 813.6 593 810 595.1 809.6C597.1 809.2 599.6 811.2 601.1 813C602.5 814.8 604 817.9 603.7 820.4C603.4 822.8 600.8 825.8 599.1 827.8C597.5 829.8 595.7 831.5 593.9 832.2C592.1 832.9 590.2 832.5 588.3 832Z" fill="url(#ke)"/>
<path d="M455.1 830C453.3 829.3 451.2 828 449.9 826.5C448.6 825 447.1 822.6 447.3 820.9C447.5 819.3 449.3 817.6 450.9 816.8C452.6 815.9 455.2 815.6 457.3 815.9C459.5 816.2 461.9 817.5 463.8 818.8C465.6 820.2 467.8 822.2 468.5 824C469.1 825.9 469.1 828.9 467.9 830C466.6 831.1 463 830.6 460.9 830.6C458.8 830.6 457 830.7 455.1 830Z" fill="url(#kd)"/>
<path d="M477.1 834.3C475.4 835.3 472.4 834.7 470.2 834.4C468.1 834.1 465.7 833.8 464.2 832.4C462.7 831.1 461.4 828.5 461.3 826.4C461.1 824.4 462 821.2 463.4 819.9C464.8 818.5 467.8 818.6 469.8 818.3C471.8 818 473.7 817.5 475.4 818.1C477.1 818.7 478.9 820.3 479.7 822C480.5 823.7 480.6 826 480.2 828.1C479.7 830.1 478.8 833.2 477.1 834.3Z" fill="url(#kb)"/>
<path d="M562.5 834.6C561.3 836 558.4 836.9 556.5 836.8C554.5 836.7 552.9 835 550.9 833.9C548.9 832.8 545.1 831.9 544.4 830.2C543.8 828.5 545.9 825.6 546.9 823.7C547.8 821.7 548.5 819.3 550.2 818.4C551.9 817.4 555.1 817 557 817.8C558.9 818.5 560.4 821 561.6 822.8C562.7 824.5 563.7 826.4 563.9 828.4C564 830.3 563.7 833.2 562.5 834.6Z" fill="url(#ka)"/>
<path d="M408.2 837.3C406.1 837.2 402.9 837.4 401.3 836.1C399.8 834.9 398.9 831.9 398.9 829.9C398.9 827.9 400 825.4 401.4 824.1C402.8 822.8 405.3 822.5 407.4 822.2C409.4 821.8 411.8 821.5 413.6 822.2C415.4 822.9 417 824.8 418 826.6C419 828.4 420 831.1 419.4 832.8C418.8 834.5 416.1 836 414.2 836.8C412.4 837.5 410.4 837.4 408.2 837.3Z" fill="url(#ka)"/>
<path d="M388.9 841C386.9 840.9 384.8 839.1 383.2 837.8C381.6 836.5 379.4 834.8 379.1 833C378.8 831.3 380.5 828.9 381.5 827.4C382.6 825.9 383.8 824.9 385.4 824C386.9 823.1 389.4 821.5 390.9 822C392.4 822.5 393.1 825.2 394.2 826.9C395.4 828.6 397.6 830.1 397.7 832C397.9 833.9 396.5 836.6 395 838.1C393.6 839.6 390.9 841 388.9 841Z" fill="url(#kc)"/>
<path d="M452.4 838C451.4 839.2 449 839.5 447.1 839.5C445.2 839.5 442.8 839.1 441.2 838C439.6 836.9 438.7 834.7 437.7 832.9C436.7 831.1 434.9 828.5 435.2 827C435.5 825.5 437.9 824.8 439.6 823.9C441.2 823.1 443.3 821.6 445.1 822.1C447 822.6 449.3 825.2 450.6 827C451.9 828.7 452.6 830.7 452.9 832.6C453.2 834.4 453.4 836.9 452.4 838Z" fill="url(#kb)"/>
<path d="M478 838.5C477.1 837.1 476.7 835.7 476.7 834C476.7 832.3 476.8 829.7 478 828.2C479.2 826.6 481.7 825.8 483.7 824.7C485.7 823.7 488.6 821.7 490.2 821.9C491.9 822.2 493.5 824.4 493.8 826.2C494.1 828 493.2 830.7 492.2 832.6C491.3 834.4 489.6 836 487.8 837.5C486.1 839.1 483.5 841.8 481.9 841.9C480.2 842.1 478.9 839.8 478 838.5Z" fill="url(#kd)"/>
<path d="M525.6 838.9C524.5 836.5 523 832.7 523.7 830.6C524.4 828.5 527.8 827.2 529.8 826.3C531.9 825.5 533.8 825.3 535.9 825.5C538 825.7 540.9 826 542.7 827.6C544.5 829.2 546.5 832.8 546.5 835.1C546.5 837.5 544.4 840.2 542.8 841.8C541.3 843.4 539.4 844.1 537.4 844.7C535.3 845.3 532.4 846.3 530.4 845.3C528.5 844.4 526.8 841.4 525.6 838.9Z" fill="url(#kc)"/>
<path d="M496.8 845.7C494.8 844.8 493.3 841.9 492.2 839.7C491.2 837.6 490.1 834.8 490.6 832.8C491.1 830.7 493.3 829 495.3 827.5C497.2 826 499.8 823.8 502.3 823.8C504.8 823.9 508.7 825.7 510.2 827.7C511.7 829.6 511.5 833 511.5 835.4C511.5 837.8 511.4 840.4 510.2 842C509 843.7 506.4 844.6 504.2 845.2C501.9 845.8 498.7 846.7 496.8 845.7Z" fill="url(#ke)"/>
<path d="M604.2 845.8C601.8 846.4 598.7 846.7 596.4 846C594 845.4 590.9 843.6 590.1 841.7C589.3 839.9 590.6 837 591.6 834.9C592.6 832.7 593.9 830.3 596.1 828.8C598.3 827.4 602.5 825.8 604.8 826.3C607.1 826.7 608.7 829.9 610 831.6C611.2 833.3 612.2 834.9 612.2 836.6C612.3 838.4 611.6 840.7 610.3 842.2C608.9 843.7 606.5 845.2 604.2 845.8Z" fill="url(#kc)"/>
<path d="M432.1 847.9C430 849 427.4 849.6 425.1 849C422.8 848.5 420.8 846.4 418.4 844.4C416 842.5 411.6 839.8 410.8 837.2C410 834.5 412 830.5 413.6 828.5C415.2 826.5 417.9 825.5 420.4 825.2C422.9 824.8 425.7 825 428.4 826.3C431.1 827.5 435.1 829.7 436.8 832.5C438.4 835.2 438.9 840.1 438.1 842.7C437.3 845.3 434.3 846.9 432.1 847.9Z" fill="url(#ke)"/>
<path d="M575.1 853.1C572.5 852.8 569.4 850.8 567.4 848.8C565.4 846.7 562.6 843.3 562.9 841C563.2 838.7 567.1 836.5 569.3 835.1C571.5 833.8 573.5 833.2 576.1 832.8C578.7 832.3 582.6 831.2 584.7 832.4C586.8 833.5 588.2 837.2 588.7 839.5C589.2 841.8 588.5 844.3 587.5 846.1C586.5 848 584.8 849.5 582.7 850.7C580.7 851.9 577.6 853.4 575.1 853.1Z" fill="url(#kc)"/>
<path d="M528.9 845.2C528.2 846.8 527.3 848.2 525.9 849.1C524.6 850 522.6 850.5 520.6 850.5C518.6 850.6 515.9 850.5 514 849.4C512.1 848.4 509.5 846.1 509 844.2C508.6 842.3 509.7 839.4 511.2 838.1C512.6 836.8 515.5 836.8 517.7 836.3C519.9 835.9 522.3 834.7 524.3 835.2C526.3 835.8 529.1 837.9 529.8 839.6C530.6 841.2 529.5 843.6 528.9 845.2Z" fill="url(#kc)"/>
<path d="M451.7 851.7C449.6 850.9 447.8 849.4 446.5 847.9C445.3 846.4 444 844.4 444.2 842.9C444.3 841.4 446 840.1 447.4 838.9C448.7 837.8 450.4 836.1 452.3 835.9C454.2 835.8 457.2 836.8 458.9 838C460.5 839.1 461.7 841 462.3 842.7C463 844.3 463.4 846.3 462.8 847.9C462.3 849.5 460.9 851.8 459 852.4C457.2 853.1 453.8 852.4 451.7 851.7Z" fill="url(#ka)"/>
<path d="M479.7 845.6C479.5 848.4 478.2 852.4 476.6 853.9C475 855.4 472 854.6 470 854.5C468 854.4 466.1 854.3 464.7 853.2C463.3 852 462.1 849.7 461.5 847.4C460.9 845.1 460.4 841.3 461.3 839.4C462.2 837.4 465.1 836.5 466.9 835.7C468.7 834.9 470.3 834.5 472.1 834.8C474 835.1 476.6 835.5 477.9 837.3C479.2 839.1 479.9 842.8 479.7 845.6Z" fill="url(#kb)"/>
<path d="M446.6 853.6C445 854.7 442 854.2 440 853.8C438.1 853.4 436.2 852.6 434.8 851.4C433.5 850.1 432.7 848.4 432 846.5C431.3 844.6 429.8 841.4 430.5 840C431.3 838.6 434.6 838.4 436.5 838C438.4 837.7 439.9 837.5 441.8 837.9C443.8 838.2 447 838.7 448.3 840.3C449.7 842 450 845.3 449.8 847.5C449.5 849.7 448.3 852.6 446.6 853.6Z" fill="url(#kd)"/>
<path d="M390 853C388.6 852 386.6 851 386.3 849.4C386 847.7 387.2 845.1 388.2 843.1C389.2 841.1 390.6 838.3 392.2 837.4C393.8 836.5 396.1 837.1 397.9 837.5C399.7 837.8 401.7 838.2 402.8 839.5C403.9 840.8 405 843.7 404.5 845.6C403.9 847.5 401.2 849.2 399.6 850.9C398 852.5 396.3 855.1 394.8 855.4C393.2 855.8 391.5 854 390 853Z" fill="url(#kd)"/>
<path d="M558.1 851C557.6 852.9 555.1 854.4 553.4 855.9C551.6 857.5 549.6 860.3 547.7 860.4C545.9 860.4 543.7 857.9 542.2 856.2C540.7 854.5 539.1 852.5 538.9 850.4C538.6 848.3 539.4 845.2 540.6 843.4C541.8 841.6 544.2 840.1 546 839.8C547.8 839.4 549.7 840.5 551.5 841.2C553.2 842 555.3 842.6 556.4 844.2C557.5 845.8 558.6 849 558.1 851Z" fill="url(#kc)"/>
<path d="M479.7 851.9C479.3 850 480.4 847.1 481.7 845.5C483 843.9 485.5 843.4 487.5 842.5C489.5 841.7 492.1 840.1 493.8 840.5C495.6 840.9 496.7 843.2 498 844.8C499.3 846.4 501.6 848.3 501.5 850.1C501.5 852 499.5 854.8 497.7 856C496 857.2 493.2 857.1 490.9 857.2C488.7 857.4 486.1 857.8 484.2 856.9C482.4 856 480.2 853.8 479.7 851.9Z" fill="url(#kd)"/>
<path d="M597.3 858.8C595.6 859.7 593.4 861.5 591.7 860.9C590 860.2 588.4 856.9 587.2 854.9C585.9 852.8 584.3 850.6 584.2 848.6C584.1 846.6 585.4 844.5 586.5 843C587.7 841.5 589.3 839.8 591.1 839.6C593 839.4 595.9 840.3 597.4 841.7C599 843.2 599.7 846 600.5 848.3C601.3 850.6 602.8 853.7 602.3 855.5C601.7 857.2 599.1 857.9 597.3 858.8Z" fill="url(#ke)"/>
<path d="M373 860.1C371.4 859.4 369.7 857.3 369.4 855.3C369.1 853.3 370.2 850 371.4 848.2C372.5 846.4 374.9 845.1 376.5 844.2C378.2 843.4 379.9 842.9 381.5 842.9C383.1 843 385.2 843.5 386 844.8C386.8 846.1 386.5 848.4 386.4 850.5C386.2 852.6 386.5 856 385.2 857.5C384 859.1 380.9 859.3 378.9 859.8C376.8 860.2 374.6 860.9 373 860.1Z" fill="url(#ke)"/>
<path d="M573.2 856C572.3 857.5 570.6 858.8 568.8 859.4C567 859.9 564.4 860.1 562.3 859.5C560.2 859 557.4 857.5 556.2 856.1C555 854.6 555.3 852.6 555 850.8C554.8 848.9 553.4 845.9 554.5 844.7C555.5 843.6 559.2 843.5 561.4 843.7C563.7 843.9 565.9 845 568 846.1C570.1 847.2 573.2 848.7 574 850.3C574.9 852 574 854.5 573.2 856Z" fill="url(#ke)"/>
<path d="M423.9 858.4C422.7 860.9 420.4 863.9 418.2 865.1C416 866.2 413.1 865.9 410.8 865.4C408.5 864.9 405.2 863.9 404.4 861.9C403.5 859.9 405.1 856.2 405.6 853.3C406.1 850.5 405.9 847.2 407.5 844.9C409.1 842.5 412.6 839.7 415.2 839.2C417.8 838.6 421.6 839.7 423.2 841.6C424.9 843.4 425.1 847.3 425.2 850.1C425.3 852.9 425.1 855.9 423.9 858.4Z" fill="url(#ka)"/>
<path d="M502.8 865.4C501 863.5 499.9 861.3 499.2 859.1C498.4 856.8 497.5 853.9 498.3 852.1C499 850.4 501.6 849 503.7 848.4C505.8 847.8 508.9 847.5 511 848.4C513.2 849.3 515.1 851.8 516.7 853.9C518.4 856 521.1 859 521 861.1C521 863.2 518.5 865.2 516.7 866.7C514.9 868.3 512.5 870.4 510.2 870.2C507.9 870 504.7 867.2 502.8 865.4Z" fill="url(#kc)"/>
<path d="M583.4 863.8C581.9 865.5 580.2 867.7 578.5 868C576.8 868.4 575.1 866.7 573.4 866C571.7 865.2 568.9 864.9 568.4 863.4C567.9 862 569.5 859.1 570.3 857.3C571.2 855.4 572 853.4 573.4 852.3C574.8 851.2 577.3 850.3 578.9 850.4C580.6 850.6 581.9 852 583.3 853.2C584.6 854.4 587.2 856 587.2 857.8C587.2 859.6 584.8 862.1 583.4 863.8Z" fill="url(#kc)"/>
<path d="M532.1 872.5C530.2 872.5 528 870.3 526.4 868.5C524.7 866.7 522.6 864.2 522.3 861.7C522 859.1 523.4 855.5 524.7 853.3C526 851.1 528.1 849.3 530.1 848.4C532.1 847.6 534.7 847.4 536.8 848.3C538.9 849.1 541.8 851.1 542.6 853.5C543.4 855.8 542.3 859.8 541.5 862.3C540.7 864.9 539.5 867 537.9 868.7C536.4 870.4 534 872.5 532.1 872.5Z" fill="url(#kc)"/>
<path d="M599.9 869.6C598.6 868.1 598.2 865.1 598.7 862.7C599.1 860.3 600.6 857.6 602.5 855.3C604.3 852.9 607.4 849.3 609.7 848.7C612 848.1 614.7 850.4 616.3 851.6C618 852.8 619 854.1 619.6 855.9C620.3 857.7 621.2 860.5 620.2 862.4C619.2 864.4 616 866 613.7 867.5C611.4 869 608.9 871.3 606.6 871.7C604.3 872.1 601.2 871.1 599.9 869.6Z" fill="url(#ke)"/>
<path d="M440.5 868.6C439.1 870.2 435.9 871.1 433.7 871.4C431.5 871.7 428.5 871.5 427.1 870.3C425.6 869.2 425.4 866.3 424.9 864.4C424.5 862.4 423.8 860.2 424.5 858.6C425.1 856.9 427.3 855.8 429.1 854.7C430.8 853.5 433 851.7 435 851.7C436.9 851.7 439.8 853.2 441 854.9C442.1 856.5 442 859.3 441.9 861.6C441.8 863.8 441.8 867 440.5 868.6Z" fill="url(#ke)"/>
<path d="M557.9 867.5C557.3 868.9 554.1 869.4 552.2 869.7C550.4 870 548.7 869.8 546.8 869.4C544.8 869 542.1 868.5 540.8 867.3C539.4 866.1 538.6 863.5 538.7 862C538.8 860.4 540.1 859 541.3 857.8C542.5 856.6 544.1 854.9 545.9 854.8C547.8 854.7 550.6 856.1 552.3 857.2C554 858.4 555 860.1 556 861.9C556.9 863.6 558.5 866.2 557.9 867.5Z" fill="url(#ke)"/>
<path d="M489.9 869C489.3 871 487.3 873.8 485.2 874.5C483.2 875.3 479.7 874.3 477.6 873.3C475.6 872.3 474.2 870.2 472.9 868.3C471.6 866.5 469.8 864 470 862C470.1 860.1 472.2 857.8 473.9 856.5C475.6 855.2 477.8 854.3 480.2 854C482.5 853.8 486.5 853.7 487.9 855.1C489.4 856.5 488.8 860.2 489.2 862.5C489.5 864.9 490.6 867 489.9 869Z" fill="url(#kc)"/>
<path d="M458.9 872.6C457.7 874.2 455.7 875.8 453.5 876.1C451.3 876.3 447.7 875.5 445.5 874.1C443.3 872.7 441.3 869.9 440.1 867.7C438.9 865.5 437.9 862.7 438.2 860.6C438.5 858.6 440.2 856.7 442 855.7C443.9 854.6 446.8 853.8 449.3 854.3C451.8 854.9 455 857.1 457 859.2C459 861.2 460.8 864.2 461.1 866.5C461.4 868.7 460.2 871 458.9 872.6Z" fill="url(#kb)"/>
<path d="M394.5 871.4C393.2 870.3 392.1 867.9 392.2 866.1C392.4 864.3 394.2 862.2 395.6 860.5C397 858.8 398.9 856.3 400.8 855.7C402.7 855.2 405.4 856.1 407.1 857.1C408.8 858.1 410.6 859.8 411 861.6C411.4 863.3 410.3 865.9 409.4 867.7C408.4 869.4 406.8 871.2 405.2 872.1C403.6 872.9 401.5 872.9 399.7 872.8C397.9 872.7 395.7 872.5 394.5 871.4Z" fill="url(#ka)"/>
<path d="M600.8 870.3C599.4 872.4 597.3 874 595.3 874.9C593.4 875.8 591.2 875.8 589 875.5C586.8 875.3 583.2 875.2 581.9 873.5C580.6 871.8 580.8 868.2 581.1 865.6C581.3 862.9 581.9 859.3 583.5 857.8C585.2 856.3 588.6 856.9 591 856.6C593.4 856.4 596 855.4 598.1 856.4C600.1 857.3 602.8 860 603.3 862.3C603.7 864.7 602.1 868.2 600.8 870.3Z" fill="url(#kb)"/>
<path d="M380.2 877.5C377.7 878.2 374.3 877.8 371.8 877.1C369.3 876.4 366.3 875.1 365.4 873.3C364.5 871.6 365.4 868.6 366.4 866.6C367.4 864.6 369.4 862.9 371.4 861.5C373.5 860.1 376.1 858.6 378.7 858.3C381.2 858 384.9 858.5 386.6 859.7C388.4 861 389.2 863.7 389.3 865.8C389.3 867.9 388.7 870.5 387.1 872.4C385.6 874.4 382.8 876.7 380.2 877.5Z" fill="url(#kd)"/>
<path d="M551.7 871.6C551.7 869.1 553.2 866.8 554.4 864.4C555.6 862 556.9 858.1 559.1 857.2C561.2 856.3 565.3 857.9 567.4 859.2C569.5 860.6 570.2 863.2 571.7 865.5C573.2 867.8 576.4 870.7 576.3 873.2C576.2 875.6 573.1 878.6 570.8 880.4C568.5 882.3 565.2 884.5 562.5 884.3C559.9 884.2 556.5 881.6 554.7 879.5C552.9 877.4 551.8 874.1 551.7 871.6Z" fill="url(#kd)"/>
<path d="M469.3 881C467.6 882.1 465.3 883.8 463.3 883.4C461.4 883 459.1 880.5 457.6 878.5C456.1 876.5 454.2 873.4 454.3 871.3C454.4 869.1 456.8 867.3 458.3 865.6C459.8 863.9 461.2 861.5 463.2 861.1C465.3 860.8 468.8 861.8 470.4 863.4C471.9 865 472.3 868.3 472.8 870.6C473.2 872.8 473.7 875.1 473.1 876.8C472.5 878.5 470.9 879.9 469.3 881Z" fill="url(#kc)"/>
<path d="M616.6 883.3C614.6 882.9 611.4 882.7 610.2 881C609 879.2 608.7 875.4 609.3 872.9C609.8 870.3 611.8 866.8 613.7 865.6C615.6 864.5 618.6 865.9 620.7 866.1C622.8 866.4 625 866 626.4 867.2C627.7 868.3 628.4 870.9 628.8 873.1C629.1 875.3 629.5 878.8 628.4 880.5C627.3 882.2 624 882.7 622 883.1C620 883.6 618.5 883.6 616.6 883.3Z" fill="url(#kd)"/>
<path d="M429.6 887C428.1 887.6 425.3 885.4 423.4 884.4C421.4 883.5 419.2 882.9 417.9 881.1C416.7 879.4 415.7 876.1 415.8 874C416 872 417.6 870 418.9 868.9C420.2 867.8 421.8 867.7 423.6 867.5C425.4 867.3 427.9 866.5 429.6 867.7C431.3 868.8 433.5 872.1 433.9 874.4C434.3 876.6 433 878.9 432.2 881C431.5 883.1 431 886.4 429.6 887Z" fill="url(#kb)"/>
<path d="M510.2 886.6C508.1 884.6 504.8 882 504.2 879.6C503.5 877.2 505 874.3 506.3 872.2C507.6 870.1 509.4 867.5 511.8 867.1C514.1 866.7 518 868.1 520.5 869.6C523 871.2 525.1 874 526.7 876.6C528.2 879.2 530.4 883 530 885.2C529.6 887.4 526.3 888.8 524.1 889.9C522 891 519.5 892.4 517.2 891.9C514.9 891.3 512.4 888.7 510.2 886.6Z" fill="url(#kc)"/>
<path d="M482.7 890.4C480.2 889.1 477.1 888.1 475.9 885.9C474.7 883.7 474.4 879.5 475.3 877C476.2 874.4 479.1 872.4 481.4 870.8C483.7 869.2 486.6 867.1 488.9 867.4C491.2 867.7 493.2 870.5 495 872.4C496.7 874.3 499.1 876.5 499.3 878.8C499.5 881.2 497.8 884.1 496.4 886.6C494.9 889 492.9 893.1 490.6 893.8C488.3 894.4 485.1 891.7 482.7 890.4Z" fill="url(#kc)"/>
<path d="M442.4 889.6C440.7 890.4 437.7 889.5 435.8 889C433.9 888.5 431.6 887.8 430.7 886.5C429.8 885.2 430.2 883 430.5 881.1C430.8 879.3 431 876.7 432.4 875.5C433.8 874.4 436.6 874.9 438.8 874.5C441 874.1 444.5 872.5 445.8 873.3C447.1 874.1 446.5 877.5 446.6 879.3C446.6 881.1 446.7 882.5 446 884.2C445.3 885.9 444.1 888.8 442.4 889.6Z" fill="url(#ka)"/>
<path d="M550.1 892.8C548.1 893.2 545.1 891.9 543.3 890.6C541.5 889.4 540.1 887.4 539.2 885.2C538.3 883.1 537.2 880 537.9 877.9C538.6 875.8 541.3 873.9 543.4 872.7C545.6 871.5 548.6 870.3 550.8 870.8C553 871.3 555.4 873.6 556.8 875.5C558.2 877.4 559.7 880.3 559.5 882.4C559.2 884.5 557 886.6 555.5 888.3C553.9 890 552.1 892.4 550.1 892.8Z" fill="url(#kb)"/>
<path d="M591.8 892.5C589.9 892.8 587.2 891.2 585.5 889.9C583.8 888.6 582.2 886.7 581.8 884.9C581.4 883 582.3 880.8 583.1 879C584 877.2 585.2 875 587 874C588.8 873.1 591.5 873 593.7 873.4C595.9 873.8 599.1 874.7 600.3 876.4C601.6 878.1 601.9 881.6 601.3 883.5C600.7 885.5 598.3 886.7 596.7 888.2C595.1 889.7 593.6 892.2 591.8 892.5Z" fill="url(#ke)"/>
<path d="M408.2 893.7C406.6 894.5 404.4 894.4 402.3 893.8C400.1 893.1 396.9 891.9 395.3 889.6C393.7 887.3 392.5 882.7 392.7 880.1C393 877.5 395.3 875.3 396.9 874C398.6 872.8 400.6 872.6 402.6 872.6C404.6 872.7 407.1 872.8 409.1 874.3C411.2 875.8 414.4 879.3 414.9 881.7C415.3 884.2 412.8 887 411.7 889C410.5 891 409.8 892.9 408.2 893.7Z" fill="url(#kb)"/>
<path d="M367.7 888.2C367.4 886 370.3 883.3 371.5 880.9C372.7 878.5 373 875.1 375.1 873.7C377.1 872.3 381 872 383.7 872.7C386.3 873.4 389.9 875.8 391 878.1C392 880.5 390.8 884.3 390.1 886.8C389.4 889.3 388.3 891.3 386.7 893C385.1 894.7 382.7 896.8 380.5 897C378.3 897.1 375.8 895.4 373.7 893.9C371.5 892.4 368.1 890.3 367.7 888.2Z" fill="url(#ka)"/>
<path d="M601 893.8C599.2 892.4 598.3 889.4 597.5 886.9C596.7 884.4 595.1 880.7 596.1 878.9C597.1 877.2 601 876.7 603.4 876.4C605.7 876.2 607.7 876.8 610.1 877.5C612.5 878.3 616 879 617.5 880.9C618.9 882.8 619.4 886.6 618.8 888.7C618.2 890.8 615.9 892.3 614.1 893.3C612.4 894.4 610.5 895.1 608.3 895.2C606.1 895.3 602.8 895.2 601 893.8Z" fill="url(#kd)"/>
<path d="M453.3 894.9C451.5 894.3 449.3 892.7 448.3 891C447.3 889.2 446.7 886.3 447.3 884.6C447.9 882.8 450.3 881.2 451.9 880.4C453.6 879.6 455.7 879.6 457.4 879.8C459.2 880 461.4 880.5 462.7 881.6C464 882.8 464.9 884.9 465.1 886.7C465.4 888.4 465.2 890.9 464.2 892.2C463.2 893.5 460.9 894 459.1 894.5C457.3 894.9 455.1 895.5 453.3 894.9Z" fill="url(#ka)"/>
<path d="M530.1 895.8C528.1 895.3 525.5 895.3 524.2 893.9C522.9 892.5 522 889.3 522.4 887.3C522.7 885.3 524.6 883.4 526.1 881.9C527.5 880.5 529.1 879 531 878.6C532.8 878.1 535.9 878 537.3 879.1C538.6 880.3 538.5 883.1 539.2 885.2C539.8 887.3 541.8 889.7 541.3 891.6C540.9 893.6 538.4 896.2 536.5 896.9C534.6 897.6 532.2 896.3 530.1 895.8Z" fill="url(#kd)"/>
<path d="M577.6 897C575.4 897.5 572.5 897 570.6 896.2C568.7 895.4 566.8 893.7 566 892.1C565.2 890.4 565.5 888.4 565.8 886.1C566 883.9 565.6 880 567.3 878.4C569.1 876.8 573.3 876.5 576.1 876.6C578.9 876.7 582.2 877.6 584.1 879.2C586.1 880.8 587.6 883.9 587.6 886.2C587.5 888.5 585.6 891.3 583.9 893.1C582.3 894.9 579.8 896.5 577.6 897Z" fill="url(#kd)"/>
<path d="M550.4 893.1C550.2 891.1 552.1 888.9 553 887C554 885 554.6 881.9 556.1 881.2C557.7 880.4 560.5 881.5 562.2 882.5C563.8 883.4 565.6 885.4 566.2 887.2C566.9 888.9 566.4 891.2 566.2 893.1C566 895.1 566 897.8 564.9 899C563.8 900.3 561.5 900.6 559.8 900.6C558 900.6 555.8 900.3 554.2 899C552.7 897.8 550.6 895.1 550.4 893.1Z" fill="url(#ke)"/>
<path d="M477.2 901.4C475.9 902.2 473.6 902.2 472 901.5C470.3 900.7 468.6 898.6 467.4 896.7C466.2 894.8 464.7 892.1 464.6 889.9C464.5 887.8 465.6 885.1 466.8 883.8C468 882.6 470.3 882.1 472 882.4C473.7 882.7 475.7 884.1 477.1 885.6C478.5 887 480 889.2 480.5 891.1C481 893 480.7 895.4 480.1 897.1C479.6 898.8 478.6 900.7 477.2 901.4Z" fill="url(#ke)"/>
<path d="M492.8 897.5C492.4 895.8 494.4 893.1 495.5 891.3C496.6 889.5 497.8 887.9 499.5 886.9C501.2 885.8 503.8 885.1 505.7 885.3C507.7 885.5 509.7 886.7 511.2 888.1C512.7 889.4 514.6 891.5 514.7 893.5C514.8 895.5 513.4 898.7 511.7 900.1C510.1 901.4 506.9 901.4 504.6 901.7C502.4 901.9 500.2 902.2 498.2 901.6C496.3 900.9 493.3 899.2 492.8 897.5Z" fill="url(#kc)"/>
<path d="M456.6 901C455.9 902.8 453.8 904.7 451.8 905.6C449.8 906.5 446.9 907 444.8 906.4C442.7 905.8 440.5 903.6 439.4 901.9C438.3 900.2 438.1 897.8 438.4 896.1C438.6 894.3 439.5 892.6 440.7 891.4C441.9 890.1 443.7 889.1 445.6 888.8C447.5 888.4 450.5 888 452.2 889C453.9 890 455 892.6 455.7 894.6C456.4 896.6 457.2 899.2 456.6 901Z" fill="url(#kd)"/>
<path d="M403.9 904.5C402.7 903.4 402 900.8 402.5 898.8C403 896.9 405.1 894.3 406.8 893C408.6 891.7 410.9 891.6 413.1 891C415.2 890.5 418.2 889.2 419.5 890C420.7 890.7 420.1 893.6 420.3 895.3C420.5 897 421.4 899 420.5 900.4C419.7 901.9 417 903.2 415.2 904C413.4 904.9 411.6 905.5 409.7 905.6C407.8 905.6 405.1 905.6 403.9 904.5Z" fill="url(#kd)"/>
<path d="M598.1 909.4C596.6 910.9 593.8 912.9 591.6 912.3C589.3 911.6 586.6 907.7 584.5 905.5C582.4 903.4 580.3 901.8 579 899.4C577.8 897 576.3 893 576.9 891.1C577.6 889.1 580.6 888.5 582.9 887.8C585.2 887.1 588.1 885.9 590.6 887C593.1 888 596.3 891.6 598 894.2C599.7 896.8 600.7 900.3 600.7 902.8C600.7 905.3 599.6 907.8 598.1 909.4Z" fill="url(#kb)"/>
<path d="M550.5 913.4C548.5 914.3 545.2 912.9 542.7 911.7C540.3 910.5 537.2 908.7 535.9 906.2C534.6 903.7 534.5 899.6 534.9 896.9C535.3 894.2 536.8 891.3 538.5 889.9C540.3 888.5 543.1 888.4 545.3 888.7C547.4 889.1 549.9 890.2 551.6 891.9C553.3 893.6 554.9 896.5 555.4 899C555.8 901.4 555.1 904 554.3 906.4C553.5 908.9 552.4 912.5 550.5 913.4Z" fill="url(#ka)"/>
<path d="M453 905.9C452 904.2 451.8 901.3 452.3 899.5C452.8 897.7 454.5 896.3 455.9 895C457.4 893.8 459.3 891.8 461 891.9C462.6 891.9 464.4 894.2 465.9 895.5C467.4 896.9 469.6 898.4 469.8 900C470 901.6 468.2 903.7 467.2 905.1C466.2 906.5 465.1 907.5 463.6 908.3C462.1 909.1 459.8 910.4 458.1 910C456.3 909.6 454 907.7 453 905.9Z" fill="url(#kd)"/>
<path d="M537.9 904.5C537.2 906.4 534.5 907.6 532.5 908.9C530.5 910.1 527.9 912.3 525.9 912C523.9 911.6 521.9 908.5 520.6 906.8C519.3 905.1 518.5 903.5 518.2 901.7C517.8 899.8 517.5 897.2 518.5 895.8C519.5 894.3 522.3 893.3 524.3 893C526.3 892.8 528.3 893.6 530.4 894.3C532.5 895.1 535.6 895.8 536.8 897.5C538.1 899.2 538.6 902.6 537.9 904.5Z" fill="url(#kc)"/>
<path d="M422.7 910.6C421 909.4 419.6 908.2 418.8 906.4C417.9 904.6 416.9 901.5 417.6 899.6C418.3 897.6 421 896.2 422.8 894.6C424.6 893 426.8 889.9 428.6 889.9C430.3 889.8 431.9 892.8 433.3 894.4C434.7 896.1 437 897.8 437.1 899.8C437.2 901.9 435.1 904.6 433.7 906.8C432.3 909 430.6 912.5 428.8 913.1C426.9 913.7 424.4 911.7 422.7 910.6Z" fill="url(#ka)"/>
<path d="M630.9 903.7C630.9 905.6 630.5 908.5 628.9 909.7C627.3 911 623.7 911.2 621.2 911.1C618.6 911 615.2 910.3 613.6 908.9C611.9 907.5 611.5 904.8 611.3 902.9C611.1 901.1 611.4 899.1 612.4 897.7C613.4 896.3 615.4 895.1 617.3 894.5C619.2 893.9 622.2 893.5 624.1 894.2C625.9 894.9 627.3 897 628.4 898.6C629.6 900.2 630.8 901.9 630.9 903.7Z" fill="url(#ke)"/>
<path d="M610 910.6C608.3 911.3 605.8 910.4 603.8 909.9C601.9 909.4 599.3 909 598.3 907.7C597.2 906.3 597.5 903.6 597.6 901.7C597.7 899.8 597.9 897.8 598.9 896.4C599.9 894.9 601.9 893.4 603.7 893.1C605.4 892.8 608 893.4 609.5 894.5C611 895.5 612 897.6 612.8 899.4C613.5 901.2 614.3 903.6 613.9 905.4C613.4 907.3 611.7 909.9 610 910.6Z" fill="url(#ke)"/>
<path d="M380.1 917.6C378.6 915.9 378.6 912.4 378.8 909.7C379.1 907.1 379.9 903.9 381.6 901.6C383.2 899.3 386.1 897.2 388.6 896C391.1 894.7 394.9 893.5 396.7 894.4C398.5 895.2 398.8 898.7 399.3 900.8C399.8 903 400.2 904.8 399.7 907.3C399.3 909.8 398.6 913.8 396.6 915.9C394.6 918 390.5 919.6 387.7 919.9C385 920.2 381.6 919.3 380.1 917.6Z" fill="url(#ka)"/>
<path d="M381.7 909.1C381.3 910.7 379.7 912.4 378.1 913.1C376.5 913.8 373.9 913.7 371.9 913.4C369.9 913.2 368 912.7 366 911.7C364 910.7 360.5 909 360.2 907.5C359.8 906 362.5 904 363.8 902.8C365.2 901.5 366.6 900.3 368.5 899.9C370.3 899.5 373 899.6 375 900.2C377 900.9 379.5 902.3 380.6 903.8C381.7 905.3 382.1 907.6 381.7 909.1Z" fill="url(#kc)"/>
<path d="M484.3 923.8C481.5 924.1 477.3 922.8 475.3 920.8C473.2 918.8 472 914.7 472 911.9C472 909.1 473.7 906.3 475.2 904.1C476.7 901.9 478.6 899.8 481 898.8C483.3 897.8 486.7 897.4 489.1 898.2C491.5 899.1 494.1 901.4 495.5 903.8C496.9 906.2 498.1 910.1 497.5 912.6C496.9 915.2 494 917.3 491.8 919.2C489.6 921 487 923.5 484.3 923.8Z" fill="url(#kc)"/>
<path d="M583.1 913.1C583 915.2 581.8 918 579.9 919.4C578 920.8 574.5 921.5 571.8 921.4C569 921.3 565.4 920.4 563.3 918.8C561.3 917.2 559.8 914 559.6 911.8C559.5 909.6 561 907.2 562.5 905.6C563.9 904.1 566.1 903.2 568.3 902.5C570.6 901.8 573.9 900.4 576 901.2C578 901.9 579.3 905 580.5 907C581.7 908.9 583.2 911 583.1 913.1Z" fill="url(#ka)"/>
<path d="M509.2 914.1C508.9 912.3 508.6 909.7 509.6 908.3C510.6 906.9 513.1 906.5 515 906C516.8 905.4 519 904.4 520.6 904.9C522.2 905.4 523.4 907.4 524.5 909.1C525.6 910.8 527.8 913.3 527.4 914.9C527 916.5 523.9 917.9 522.1 918.9C520.4 919.9 518.8 921 517 921.1C515.3 921.1 512.8 920.4 511.5 919.3C510.2 918.1 509.5 915.9 509.2 914.1Z" fill="url(#kc)"/>
<path d="M502.5 922.2C500.5 922.6 497.2 923.1 495.7 921.9C494.1 920.7 493.4 917.1 493.3 914.9C493.3 912.7 494.5 910.7 495.5 908.8C496.6 906.9 497.7 904.5 499.4 903.7C501.2 903 503.9 903.3 505.8 904C507.7 904.8 510 906.3 511 908.1C512 910 512.3 913.2 511.8 915.1C511.2 917 509.1 918.6 507.5 919.8C506 921 504.4 921.9 502.5 922.2Z" fill="url(#ka)"/>
<path d="M462.4 925.6C459.7 924.4 456 921.7 455 919.5C453.9 917.3 455.2 914.3 456 912.2C456.8 910.2 457.9 908.5 459.7 907.2C461.6 905.8 464.7 903.5 467 904C469.4 904.5 471.8 908.3 473.6 910.3C475.3 912.3 477.1 913.9 477.7 915.9C478.2 917.8 477.9 920.2 476.9 922C475.9 923.8 474 926 471.6 926.6C469.2 927.2 465.2 926.8 462.4 925.6Z" fill="url(#ke)"/>
<path d="M624.3 918.4C623.8 920.4 622.6 921.8 621.4 923.4C620.1 925.1 618.6 927.8 616.9 928.3C615.1 928.7 612.5 927.4 611 926C609.6 924.5 608.6 921.9 608.2 919.6C607.9 917.3 607.8 913.8 608.9 912.1C609.9 910.3 612.8 909.8 614.6 909.3C616.4 908.7 617.9 908.4 619.6 908.8C621.2 909.2 623.7 910.1 624.5 911.7C625.2 913.3 624.8 916.4 624.3 918.4Z" fill="url(#kb)"/>
<path d="M442 921.7C440.8 919.4 439 916.8 438.9 914.5C438.9 912.2 440.1 908.9 441.7 907.8C443.3 906.6 446.4 906.8 448.5 907.4C450.6 907.9 452.8 909.4 454.4 911.1C456.1 912.8 457.8 915.3 458.3 917.5C458.7 919.7 458.2 922.5 457.4 924.4C456.5 926.3 454.8 928 453 928.7C451.1 929.5 447.9 929.8 446.1 928.7C444.3 927.5 443.2 924.1 442 921.7Z" fill="url(#kb)"/>
<path d="M556.6 925.8C554.7 927.2 552.1 927.8 549.9 928C547.6 928.2 544.4 928.4 543.1 927.2C541.7 926 541.7 922.9 541.8 920.9C541.8 918.8 542.4 916.9 543.5 914.9C544.5 913 546.2 909.8 548.1 909.1C549.9 908.3 552.9 909.8 554.5 910.6C556.2 911.5 556.8 912.8 558 914.3C559.2 915.9 562 917.8 561.8 919.8C561.5 921.7 558.6 924.4 556.6 925.8Z" fill="url(#ka)"/>
<path d="M411.3 927.5C409.4 927.8 407 926.6 405.5 925.7C404 924.7 403.1 923.4 402.2 921.8C401.2 920.3 399.3 918 399.7 916.4C400.1 914.8 402.7 913.2 404.5 912.2C406.3 911.2 408.4 910.4 410.4 910.4C412.3 910.5 415.1 911.3 416.3 912.6C417.4 913.9 417.1 916.3 417.3 918.2C417.4 920.2 418.2 922.7 417.2 924.2C416.2 925.8 413.3 927.3 411.3 927.5Z" fill="url(#kd)"/>
<path d="M421.2 921.7C420.8 919.5 421.5 916 423 914.5C424.4 912.9 427.5 913.3 429.8 912.6C432.1 911.8 434.8 909.5 436.6 910.1C438.4 910.7 439.8 913.9 440.7 916C441.6 918.1 442.4 920.5 442 922.5C441.6 924.4 439.8 926.5 438.1 927.8C436.4 929.2 433.9 930.6 431.7 930.6C429.6 930.6 427 929.2 425.3 927.8C423.5 926.3 421.6 924 421.2 921.7Z" fill="url(#kc)"/>
<path d="M382.1 927.5C381.1 929 378.4 930.4 376.6 930.4C374.7 930.3 372.7 928.4 370.8 927.2C368.9 926 366.3 925.1 365.3 923.3C364.2 921.5 363.6 917.9 364.5 916.4C365.4 914.8 368.6 914.9 370.5 914.1C372.4 913.3 374 911.4 375.8 911.6C377.7 911.8 380.5 913.8 381.7 915.4C382.8 917.1 382.6 919.6 382.6 921.6C382.7 923.6 383.1 926.1 382.1 927.5Z" fill="url(#ka)"/>
<path d="M601.8 922.1C601.9 924.6 600.5 928.6 598.9 930.2C597.3 931.9 594.3 931.9 592.2 931.9C590.2 931.8 587.9 931.4 586.5 929.9C585.2 928.5 584.6 925.8 584.2 923.4C583.7 921.1 583.1 917.8 583.9 915.8C584.7 913.8 587.2 912.6 589.1 911.4C591 910.3 593.6 908.4 595.2 909C596.8 909.6 597.6 913.1 598.7 915.3C599.8 917.5 601.8 919.6 601.8 922.1Z" fill="url(#kc)"/>
<path d="M534.9 932.9C533.5 934.3 530.6 935.1 528.3 935.2C526.1 935.3 522.9 935 521.3 933.6C519.8 932.2 519.2 929.1 519 926.9C518.8 924.8 519.3 922.7 520.1 920.6C521 918.4 522.3 915 524.3 914.2C526.2 913.3 529.4 914.8 531.8 915.6C534.2 916.5 537.6 917.4 538.5 919.3C539.3 921.1 537.4 924.3 536.8 926.6C536.2 928.9 536.3 931.5 534.9 932.9Z" fill="url(#kc)"/>
<path d="M402.1 930.8C401.1 933.2 397 934.2 394.7 935.6C392.4 937 390.5 939.1 388.4 939.1C386.3 939.1 383.7 937.3 382.1 935.5C380.6 933.8 379.3 931 379.2 928.6C379.2 926.2 380.4 923.5 381.7 921.1C383 918.8 385.1 915.1 387.1 914.5C389.2 914 391.9 916.5 394.2 917.6C396.6 918.8 399.9 919.2 401.3 921.4C402.6 923.6 403.2 928.5 402.1 930.8Z" fill="url(#kb)"/>
<path d="M474.7 932.4C473.6 930.8 471.9 929.3 471.8 927.3C471.7 925.4 472.8 922.6 474.3 920.9C475.8 919.1 478.7 917.1 480.9 916.8C483 916.6 485.3 918.3 487.2 919.4C489.2 920.6 492.1 921.9 492.5 923.8C492.9 925.6 490.9 928.5 489.7 930.5C488.5 932.5 487.2 934.5 485.3 935.6C483.5 936.8 480.3 937.7 478.5 937.2C476.7 936.6 475.8 934 474.7 932.4Z" fill="url(#kd)"/>
<path d="M565.9 933.7C564.8 931.4 564.5 927.4 565.3 925C566.1 922.7 568.5 920.9 570.6 919.5C572.8 918.1 575.6 916.2 578.1 916.7C580.6 917.1 583.9 919.7 585.5 922.2C587.1 924.6 588.1 928.7 587.8 931.4C587.6 934.2 585.6 936.7 583.9 938.4C582.3 940.1 580 941.5 577.9 941.6C575.9 941.7 573.7 940.1 571.7 938.8C569.7 937.5 566.9 936 565.9 933.7Z" fill="url(#kc)"/>
<path d="M551.4 938.2C549.7 936.3 547 933.7 547 931.9C547 930 550 928.4 551.4 926.9C552.8 925.5 553.7 923.4 555.3 923C557 922.6 559.7 923.7 561.4 924.7C563.2 925.8 565 927.8 565.7 929.5C566.4 931.3 566.3 933.7 565.8 935.3C565.3 937 564.1 938 562.7 939.4C561.2 940.7 559.2 943.5 557.3 943.3C555.4 943.1 553.1 940.1 551.4 938.2Z" fill="url(#ka)"/>
<path d="M456.8 941C454.9 941.3 451.4 941.5 450.1 940.3C448.7 939.1 448.9 935.9 448.8 933.8C448.7 931.8 448.4 929.7 449.2 928C450.1 926.4 452.1 924.8 454.1 924C456 923.2 459.1 922.5 461 923.2C462.8 924 464.1 926.6 465.1 928.5C466.1 930.4 467.5 933 466.9 934.7C466.4 936.3 463.5 937.4 461.8 938.4C460.1 939.5 458.8 940.7 456.8 941Z" fill="url(#kb)"/>
<path d="M410.2 942.9C408.2 943.1 405 942.4 403.3 941C401.6 939.7 400.5 937 400.2 934.8C399.9 932.7 400.4 930 401.5 928.2C402.7 926.4 405.1 924.2 407 923.9C409 923.5 411.4 925.3 413.4 926.1C415.3 927 417.8 927.6 418.7 929.1C419.6 930.5 419.3 933.2 418.7 934.9C418.2 936.7 417 938.1 415.6 939.4C414.1 940.8 412.2 942.6 410.2 942.9Z" fill="url(#ka)"/>
<path d="M622.8 934C622.7 936.2 620.4 938.7 618.9 940.5C617.4 942.3 615.7 944.3 613.8 944.8C611.9 945.3 609 944.6 607.5 943.3C605.9 941.9 604.9 938.9 604.5 936.7C604.1 934.4 604.2 931.6 604.9 929.6C605.6 927.5 607.1 925.5 608.8 924.2C610.5 922.9 613.2 921 615 921.5C616.8 922 618.3 925 619.6 927.1C620.9 929.1 622.9 931.7 622.8 934Z" fill="url(#kc)"/>
<path d="M420 941.2C418.3 940.1 415.5 938.5 414.9 936.7C414.4 935 415.5 931.9 416.6 930.5C417.8 929.2 420.1 929 422 928.4C423.8 927.8 425.8 926.6 427.7 927C429.7 927.4 432.5 929.1 433.6 930.9C434.7 932.7 434.9 935.8 434.4 937.7C433.8 939.5 431.9 941.1 430.3 942C428.8 943 426.8 943.5 425.1 943.4C423.4 943.2 421.7 942.3 420 941.2Z" fill="url(#ka)"/>
<path d="M487.6 935.7C487.8 933.4 488.4 931.2 489.5 929.2C490.7 927.3 492.6 924.7 494.6 924.2C496.5 923.8 499.3 925.2 501.1 926.5C502.8 927.8 504.2 929.9 505 932.1C505.9 934.2 506.6 937.1 506 939.4C505.5 941.7 503.7 944.4 501.8 945.8C499.9 947.2 496.9 948.1 494.6 947.7C492.4 947.3 489.6 945.2 488.5 943.2C487.3 941.2 487.4 938 487.6 935.7Z" fill="url(#ke)"/>
<path d="M592.2 948.6C590.6 948.3 588.8 946.6 587.7 945C586.5 943.4 585.7 941.2 585.4 939C585.1 936.9 585.1 934.3 585.8 932C586.5 929.8 587.9 926.5 589.4 925.7C590.9 925 593.4 926.3 595 927.3C596.7 928.3 598.3 929.8 599.3 931.9C600.4 933.9 601.6 937.3 601.3 939.7C601 942.1 599.1 944.7 597.5 946.2C596 947.7 593.9 948.8 592.2 948.6Z" fill="url(#ke)"/>
<path d="M524.8 941.9C523.6 944.9 521.6 948.1 519.5 949.5C517.5 950.9 514.8 950.4 512.5 950.2C510.3 950 507.8 949.9 506.1 948.3C504.3 946.7 501.8 943.3 501.9 940.4C502 937.5 504.7 933.3 506.6 931.1C508.5 928.9 511.1 928 513.4 927.2C515.7 926.4 518.2 925.5 520.4 926.3C522.6 927 525.9 929 526.7 931.6C527.4 934.2 526 938.9 524.8 941.9Z" fill="url(#kb)"/>
<path d="M434.2 953C431.9 952.2 428.9 949.8 428.2 947.5C427.5 945.2 429.4 941.9 430.1 939.1C430.8 936.4 430.9 932.5 432.6 931C434.4 929.4 438.3 929.3 440.6 929.7C442.9 930.1 444.6 931.9 446.3 933.6C448 935.2 450.8 937.3 450.9 939.5C450.9 941.6 448.1 944.2 446.6 946.3C445.1 948.4 443.9 950.9 441.9 952C439.8 953.2 436.4 953.8 434.2 953Z" fill="url(#kc)"/>
<path d="M468.2 947.5C466.4 946.5 464.1 944.9 463.4 943.2C462.7 941.6 463.2 939.3 463.8 937.5C464.3 935.7 465.2 933.4 466.9 932.5C468.5 931.6 471.8 931.3 473.8 932.1C475.7 932.9 477.1 935.5 478.3 937.2C479.5 938.9 480.6 940.5 481 942.3C481.3 944.2 481.4 947.1 480.2 948.3C479 949.6 476 949.9 474 949.8C472 949.7 469.9 948.6 468.2 947.5Z" fill="url(#kb)"/>
<path d="M545.9 943.9C546 946.4 544.6 950.6 542.9 952.2C541.3 953.8 538.4 953.2 536.1 953.5C533.8 953.8 530.9 955 529.1 953.8C527.2 952.6 525.6 949 525.2 946.2C524.7 943.5 525.2 939.6 526.4 937.3C527.5 934.9 530.1 933.2 532.1 932.1C534.2 931.1 537 930.4 538.7 931.2C540.5 932 541.4 935 542.6 937.1C543.8 939.2 545.9 941.4 545.9 943.9Z" fill="url(#ke)"/>
<path d="M374.7 952.6C373.4 950.5 372.3 948.6 372 946.3C371.7 944 371.7 940.5 373 938.8C374.4 937.2 377.8 936.2 380 936.3C382.3 936.3 384.8 937.7 386.7 939.1C388.6 940.5 390.3 942.2 391.4 944.4C392.6 946.7 394.1 950.2 393.5 952.4C392.8 954.7 389.8 956.5 387.5 957.7C385.2 958.8 381.8 960.3 379.7 959.5C377.6 958.6 376 954.8 374.7 952.6Z" fill="url(#ke)"/>
<path d="M389.5 949.5C389 947.6 388.4 944.9 389.6 943.1C390.8 941.2 394.2 939 396.8 938.4C399.4 937.8 402.3 938.9 404.9 939.5C407.6 940 411.3 940.3 412.5 941.7C413.7 943.1 412.5 945.9 412 948.1C411.6 950.3 411.8 954 409.9 955.1C408 956.3 403.3 955.1 400.5 955C397.7 954.9 394.8 955.4 393 954.5C391.2 953.6 390.1 951.4 389.5 949.5Z" fill="url(#kc)"/>
<path d="M561.3 948.8C561.2 950.6 561.1 953.5 559.6 954.6C558.2 955.7 554.7 955.5 552.3 955.5C549.9 955.4 547.2 955.4 545.2 954.3C543.3 953.3 541.4 951 540.8 949.1C540.2 947.2 540.7 944.9 541.6 942.9C542.6 940.9 544.2 938.1 546.5 937.4C548.7 936.6 552.8 937.4 555.1 938.4C557.3 939.4 558.8 941.8 559.8 943.5C560.9 945.2 561.3 946.9 561.3 948.8Z" fill="url(#ke)"/>
<path d="M602 958C600.9 956.8 601 954.1 601.1 952.1C601.3 950.1 601.8 948.2 602.8 946.2C603.8 944.2 605.4 941.2 607.3 940.1C609.1 939 612 939.3 613.9 939.8C615.9 940.3 618.3 941.2 619.2 943C620.1 944.7 620.2 948.1 619.3 950.3C618.4 952.4 615.6 954.2 613.7 955.8C611.8 957.3 609.8 959 607.8 959.4C605.9 959.8 603.1 959.3 602 958Z" fill="url(#ka)"/>
<path d="M476.2 954.4C475.7 952.9 475 950.4 476.1 949.2C477.2 948 480.7 947.5 482.9 947.2C485 946.9 486.9 946.8 489 947.2C491.2 947.6 494.6 948.3 495.5 949.6C496.4 950.9 495.3 953.6 494.4 955.1C493.5 956.6 491.6 957.9 489.9 958.7C488.2 959.4 486 959.9 484.2 959.9C482.4 959.8 480.4 959.1 479.1 958.2C477.7 957.3 476.7 955.9 476.2 954.4Z" fill="url(#ka)"/>
<path d="M574.9 965.6C571.9 965.2 568.6 963.1 566.6 961.2C564.7 959.3 563.2 956.4 563.2 954.2C563.1 952 565 949.8 566.6 947.9C568.1 946 570.2 943.2 572.5 942.9C574.8 942.5 577.7 945 580.4 946C583.2 947 587.7 947.2 589 949C590.3 950.7 589 954.1 588.2 956.6C587.5 959 586.8 962.1 584.6 963.6C582.3 965.1 577.9 966 574.9 965.6Z" fill="url(#ka)"/>
<path d="M406.4 956.8C406.1 954.3 409.2 951.5 410.5 948.7C411.8 946 412.3 941.8 414.4 940.4C416.6 939 421.2 938.9 423.4 940.4C425.5 941.9 426.2 946.6 427.5 949.5C428.7 952.4 431 955 431 957.9C431 960.9 429.4 964.9 427.4 966.9C425.4 968.9 421.6 970.5 419.1 970C416.6 969.5 414.4 966.1 412.3 964C410.2 961.8 406.7 959.4 406.4 956.8Z" fill="url(#kb)"/>
<path d="M467.5 960.2C466.8 962.9 464.3 966.4 462 968.2C459.7 970.1 456.2 971.7 453.7 971.3C451.2 971 448.5 968.8 447.1 966.4C445.7 964 444.8 960 445.3 957C445.8 954 448.4 951 450.3 948.6C452.2 946.1 454.6 942.7 456.9 942.1C459.1 941.6 462 943.7 463.5 945.3C465.1 946.9 465.5 949.4 466.2 951.9C466.9 954.4 468.2 957.5 467.5 960.2Z" fill="url(#kc)"/>
<path d="M585.2 959C584.8 957.6 586.3 955.6 587.5 954C588.7 952.3 590.2 949.9 592.3 949.2C594.4 948.5 598 949.1 600.1 949.7C602.2 950.4 604 951.7 604.9 953C605.9 954.4 605.9 956.2 605.5 957.8C605.1 959.4 604.3 961.6 602.6 962.8C600.9 964 597.4 965 595.3 964.9C593.2 964.8 591.8 963 590.1 962C588.4 961 585.6 960.3 585.2 959Z" fill="url(#ka)"/>
<path d="M439.9 966.4C437.5 966.1 435.1 965.3 433.4 964.1C431.6 962.9 429.4 960.8 429.3 959.2C429.1 957.5 431.3 955.7 432.6 954.1C433.9 952.6 435.2 950.5 437.1 950C438.9 949.5 442 950.6 443.8 951.4C445.6 952.2 447.2 953.7 448 955.1C448.7 956.5 448.4 958 448.3 959.7C448.2 961.4 448.7 964.4 447.3 965.5C445.9 966.7 442.2 966.6 439.9 966.4Z" fill="url(#ke)"/>
<path d="M529.2 964.4C528.4 965.8 527.5 967.6 525.7 968.2C524 968.8 520.9 968.8 518.7 968C516.4 967.2 513.5 965.2 512.3 963.4C511 961.6 510.9 959 511.3 957.4C511.6 955.8 513 954.8 514.4 953.6C515.7 952.5 517.4 950.6 519.3 950.7C521.2 950.9 523.8 953.1 525.7 954.6C527.5 956 530 957.8 530.6 959.4C531.2 961 530 962.9 529.2 964.4Z" fill="url(#kd)"/>
<path d="M491.4 962.2C491 959.9 491.6 956.5 492.9 954.6C494.2 952.7 497 951.1 499.1 950.8C501.2 950.6 503.5 952 505.3 953.1C507.1 954.1 509 955.2 510.1 957C511.3 958.8 512.6 962 512.1 964C511.6 966 508.9 967.8 507.1 968.9C505.3 969.9 503.3 970.3 501.3 970.2C499.4 970.1 497.1 969.6 495.4 968.3C493.8 966.9 491.8 964.5 491.4 962.2Z" fill="url(#kd)"/>
<path d="M409 969.3C407.7 970.9 406.3 972.8 404.5 973.5C402.7 974.3 399.7 974.6 398.2 973.7C396.7 972.9 396.1 970.3 395.6 968.4C395 966.4 394.1 963.7 395 962C395.9 960.4 398.9 959.7 400.8 958.5C402.7 957.4 404.9 955.2 406.4 955.4C407.9 955.6 408.7 958.3 409.7 959.8C410.7 961.3 412.5 962.6 412.4 964.2C412.3 965.8 410.4 967.8 409 969.3Z" fill="url(#kd)"/>
<path d="M471.2 978.6C469.1 977.5 466.8 975.5 466 973.4C465.1 971.2 465.7 968.4 466.1 965.7C466.5 962.9 466.5 958.8 468.2 956.9C470 954.9 474 954 476.8 954C479.6 954.1 483.3 955.1 484.9 957.1C486.4 959.1 486 962.9 486.1 965.8C486.3 968.7 487.1 972 485.9 974.3C484.7 976.7 481.5 979.2 479 980C476.6 980.7 473.4 979.7 471.2 978.6Z" fill="url(#kc)"/>
<path d="M542 976.6C539.4 975 534.6 974 533.9 972C533.3 969.9 536.7 966.6 538 964.1C539.2 961.7 539.4 958.7 541.4 957.1C543.5 955.5 547.9 953.8 550.4 954.6C552.9 955.4 555.3 959.4 556.5 961.8C557.7 964.2 557.8 966.8 557.7 969.2C557.5 971.5 557 973.8 555.6 975.9C554.2 977.9 551.6 981.4 549.3 981.5C547.1 981.6 544.5 978.2 542 976.6Z" fill="url(#ke)"/>
<path d="M428.4 976.5C427 975 425.9 972.8 425.7 971C425.5 969.1 426 967 427 965.4C427.9 963.7 429.6 961.1 431.3 960.9C433 960.7 435.3 963.1 437.2 964.2C439.1 965.3 441.6 965.8 442.7 967.4C443.8 969 444.3 972.2 443.8 974C443.2 975.8 441 977.2 439.3 978.1C437.7 979.1 435.6 980.1 433.7 979.9C431.9 979.6 429.7 978 428.4 976.5Z" fill="url(#kd)"/>
<path d="M535.8 979C534.2 979.7 532.2 979.6 530.5 979.2C528.8 978.8 526.9 977.9 525.5 976.6C524.1 975.2 522.1 972.8 521.9 970.9C521.7 969.1 523.1 966.8 524.3 965.3C525.4 963.9 527.1 962.6 528.9 962.3C530.6 962 533.3 962.2 534.8 963.3C536.4 964.4 537.2 966.9 538 968.9C538.8 970.8 540.1 973.3 539.7 975C539.3 976.7 537.3 978.3 535.8 979Z" fill="url(#ke)"/>
<path d="M572 973.2C571.3 971 570.4 967.5 571.9 965.6C573.5 963.8 578.2 962.7 581.3 962.1C584.4 961.5 588.1 961 590.5 961.8C592.9 962.6 594.7 965.1 595.7 966.9C596.8 968.8 597.5 971.1 596.9 973.1C596.2 975 594.1 976.8 591.9 978.4C589.7 980.1 586.4 983 583.7 983C581.1 983.1 578 980.4 576 978.8C574.1 977.1 572.7 975.4 572 973.2Z" fill="url(#kb)"/>
<path d="M553.3 978.7C552.6 977.1 554.4 973.8 555.7 971.8C556.9 969.8 558.7 968 561 966.5C563.2 965.1 566.6 963 569.1 963C571.7 962.9 574.7 964.5 576.3 966C578 967.5 579.1 969.9 579 972.2C578.9 974.4 577.7 977.5 575.7 979.3C573.8 981.2 570 982.8 567.4 983.1C564.8 983.5 562.5 982.3 560.1 981.6C557.8 980.8 554.1 980.3 553.3 978.7Z" fill="url(#kc)"/>
<path d="M483.7 981.2C483.4 978.5 482.3 975.7 483.5 973.4C484.8 971.2 488.2 968.8 491.2 967.8C494.2 966.8 498.5 966.6 501.3 967.5C504.2 968.4 507 971 508.2 973.2C509.4 975.5 509.4 978.8 508.5 981C507.5 983.2 504.8 985 502.6 986.5C500.4 988.1 497.9 990 495 990.5C492.1 990.9 487.2 990.7 485.3 989.1C483.5 987.6 484 983.8 483.7 981.2Z" fill="url(#kc)"/>
<path d="M429.2 984.8C428.4 986.7 426.1 989.3 424.1 989.8C422.1 990.4 419.4 989 417.1 988.1C414.9 987.3 411.7 986.5 410.6 984.7C409.5 983 410.2 979.8 410.6 977.5C411.1 975.2 411.7 972.1 413.3 971C414.9 969.9 418.3 970.5 420.4 970.9C422.5 971.3 424.4 972 425.9 973.2C427.3 974.4 428.5 976.3 429.1 978.2C429.6 980.2 430 982.8 429.2 984.8Z" fill="url(#ka)"/>
<path d="M461.3 982.4C460.7 985.3 461 989.3 459 991.3C457.1 993.2 452.2 994.8 449.5 994.1C446.9 993.5 444.8 989.4 443.2 987.2C441.6 985 440.4 983.3 439.8 980.9C439.2 978.6 438.6 975 439.8 972.9C441 970.8 444.2 968.9 446.8 968.2C449.4 967.4 452.7 967.5 455.3 968.5C457.9 969.4 461.4 971.6 462.4 973.9C463.4 976.2 461.9 979.5 461.3 982.4Z" fill="url(#ke)"/>
<path d="M413.2 989.2C411.9 990.8 408.8 991.3 406.5 991.5C404.2 991.7 401 991.5 399.4 990.2C397.8 988.9 397.3 985.8 396.7 983.8C396.2 981.7 395.6 979.6 396.2 977.8C396.7 976.1 398.3 974.1 399.9 973.3C401.6 972.4 404.3 972.4 406.1 973C408 973.5 409.7 975.2 411 976.7C412.4 978.3 414 980.2 414.4 982.3C414.7 984.4 414.5 987.7 413.2 989.2Z" fill="url(#kc)"/>
<path d="M459.7 986.4C458.9 985.2 458.9 983.4 459.3 981.6C459.7 979.9 460.4 977.5 462 976C463.6 974.5 466.9 972.6 468.8 972.6C470.7 972.6 471.9 974.9 473.2 976.1C474.5 977.2 476.3 977.9 476.5 979.3C476.7 980.7 475.3 982.8 474.1 984.4C473 985.9 471.4 988.1 469.7 988.8C468 989.5 465.6 989 463.9 988.6C462.2 988.2 460.5 987.6 459.7 986.4Z" fill="url(#kb)"/>
<path d="M521.3 996.3C519.7 996.8 517 994.6 515.1 993.3C513.3 992 511.3 990.7 510.1 988.5C509 986.4 507.6 982.6 508 980.4C508.5 978.2 511 976.4 512.8 975.3C514.5 974.3 516.7 973.5 518.4 974C520 974.5 521.3 976.8 522.9 978.4C524.6 980.1 527.9 982 528.2 983.9C528.5 985.9 525.8 988.1 524.7 990.1C523.6 992.2 522.9 995.7 521.3 996.3Z" fill="url(#kb)"/>
<path d="M572.7 994.6C571.5 993.4 570 991.3 570.3 989.4C570.6 987.4 572.9 984.5 574.7 982.9C576.5 981.3 579.2 980.2 581.2 979.8C583.1 979.4 585 980 586.4 980.6C587.9 981.3 589.3 982.2 589.9 983.7C590.6 985.2 591.4 988 590.4 989.7C589.4 991.3 586.1 992.6 584 993.8C581.9 994.9 579.8 996.6 577.9 996.8C576 996.9 574 995.9 572.7 994.6Z" fill="url(#kc)"/>
<path d="M489.3 998.2C488.2 999.6 486.6 1001.1 484.8 1001.3C483.1 1001.6 481 1000.6 478.9 999.8C476.9 999 473.5 998.1 472.5 996.4C471.5 994.8 472.4 991.8 473 989.9C473.7 988.1 474.8 986.7 476.3 985.4C477.8 984.1 480.2 982.1 482.3 982.3C484.3 982.5 487.2 985 488.7 986.8C490.2 988.6 491.4 991.1 491.5 993C491.6 994.9 490.4 996.8 489.3 998.2Z" fill="url(#ka)"/>
<path d="M538.3 1003.6C536.6 1002.7 535.1 1001.5 534.2 999.7C533.3 997.9 532.6 995.2 532.8 992.8C533.1 990.4 534.1 986.9 535.5 985.3C536.9 983.8 539.4 983.7 541.1 983.6C542.9 983.4 544.7 983.2 546 984.2C547.3 985.2 548.8 987.4 549 989.4C549.2 991.4 548 993.8 547.3 996.3C546.5 998.9 546 1003.5 544.5 1004.7C543 1005.9 540 1004.4 538.3 1003.6Z" fill="url(#ka)"/>
<path d="M466.3 998.2C465.4 1000.1 463.4 1001.7 461.5 1002.7C459.7 1003.7 457 1004.6 455.3 1004C453.5 1003.5 452.1 1001.1 451.2 999.4C450.4 997.6 449.9 995.6 450.1 993.6C450.2 991.6 450.8 988.7 452.1 987.3C453.5 985.9 456.3 984.9 458.1 984.9C460 984.9 461.9 986.1 463.4 987.2C464.8 988.4 466.4 989.9 466.9 991.8C467.4 993.6 467.2 996.4 466.3 998.2Z" fill="url(#kd)"/>
<path d="M565.2 999.3C564.1 1000.7 561.2 1000.8 559.3 1001.4C557.4 1002 555.3 1003.5 553.6 1003.1C551.9 1002.6 550.3 1000.3 549.1 998.7C548 997.1 546.4 995 546.6 993.4C546.7 991.8 548.5 990.2 549.9 989.2C551.3 988.3 553.1 987.9 554.8 987.8C556.6 987.7 558.5 988 560.3 988.8C562.1 989.7 565 991.2 565.8 992.9C566.6 994.7 566.3 997.9 565.2 999.3Z" fill="url(#kb)"/>
<path d="M445.7 1003.9C443.4 1005 440.4 1005.6 438.5 1005.3C436.6 1004.9 435.4 1003.1 434.1 1001.8C432.8 1000.5 430.8 999 430.9 997.3C430.9 995.6 432.8 993.1 434.4 991.4C436 989.7 438.3 987.9 440.6 987.2C442.8 986.6 445.8 986.7 447.8 987.4C449.8 988.2 451.8 989.9 452.5 991.8C453.3 993.7 453.5 996.8 452.3 998.9C451.2 1000.9 448 1002.9 445.7 1003.9Z" fill="url(#kd)"/>
<path d="M563.9 1003.1C562.9 1002.2 562.4 1000.8 562.1 999.1C561.7 997.3 560.7 994.5 561.7 992.7C562.7 990.9 565.8 989.1 567.8 988.3C569.8 987.5 571.9 987.4 573.7 987.7C575.4 988.1 577.3 988.9 578.1 990.4C579 991.9 579.2 994.8 578.5 996.8C577.7 998.8 575.5 1001.1 573.7 1002.4C572 1003.7 569.9 1004.4 568.2 1004.5C566.6 1004.7 565 1004.1 563.9 1003.1Z" fill="url(#ka)"/>
<path d="M427.6 1008.6C425.6 1009.3 423 1011 421.3 1009.9C419.6 1008.7 418.8 1004.3 417.6 1001.6C416.4 998.9 414.1 996.1 414.1 993.8C414.1 991.6 416.3 989.7 417.8 988.1C419.3 986.5 421.2 984.1 423 984.4C424.8 984.8 426.9 987.9 428.7 990C430.4 992.1 432.7 994.2 433.5 996.8C434.3 999.5 434.6 1004.1 433.6 1006C432.7 1008 429.7 1008 427.6 1008.6Z" fill="url(#ka)"/>
<path d="M510.1 1007.9C508.4 1008 506.9 1007.3 505.4 1006.5C503.8 1005.6 501.7 1004.5 501 1002.8C500.2 1001.2 500.8 998.9 501 996.7C501.1 994.6 500.7 991 501.8 989.9C502.9 988.7 505.7 989.5 507.6 989.9C509.5 990.3 512 990.6 513.1 992.1C514.3 993.5 514.1 996.5 514.5 998.8C514.8 1001.1 516 1004.3 515.3 1005.9C514.6 1007.4 511.8 1007.8 510.1 1007.9Z" fill="url(#ke)"/>
<path d="M530 1006.8C528 1008.5 524.6 1010.9 522.6 1010.9C520.6 1010.9 519.4 1008.1 518 1006.8C516.6 1005.4 514.2 1004.4 514.2 1002.6C514.2 1000.9 516.4 998 518 996.4C519.6 994.7 521.9 993.5 523.9 992.7C525.9 991.9 528.1 991.6 530.2 991.8C532.2 992 535.4 992.6 536.2 994.1C536.9 995.7 535.5 998.8 534.4 1001C533.4 1003.1 531.9 1005.2 530 1006.8Z" fill="url(#ka)"/>
<path d="M473.6 1017.9C472.1 1016.8 471.2 1014.3 470.9 1012.5C470.6 1010.7 471.1 1008.5 472 1007C472.8 1005.5 474.3 1004.5 476 1003.5C477.6 1002.6 479.9 1001.2 481.8 1001.5C483.7 1001.8 486.2 1003.6 487.3 1005.3C488.5 1007.1 489.2 1009.9 488.9 1012C488.5 1014 486.9 1016.2 485.3 1017.4C483.8 1018.6 481.5 1019 479.5 1019.1C477.6 1019.2 475 1019 473.6 1017.9Z" fill="url(#ka)"/>
<path d="M547.3 1020.9C545.7 1021.2 543.3 1019.5 541.9 1018.1C540.5 1016.8 539.3 1014.6 539 1012.7C538.7 1010.8 539.1 1008.3 539.9 1006.7C540.8 1005.1 542.4 1004.2 544 1003.3C545.5 1002.5 547.3 1001.3 549.1 1001.6C550.8 1001.9 553.3 1003.3 554.3 1005C555.4 1006.7 555.7 1010 555.2 1011.9C554.7 1013.8 552.7 1014.9 551.4 1016.4C550.1 1017.9 548.9 1020.6 547.3 1020.9Z" fill="url(#kd)"/>
<path d="M462.2 1018.4C459.9 1020.6 457.1 1023.3 454.4 1024.1C451.7 1024.8 447.5 1024.4 445.9 1022.9C444.4 1021.3 445.6 1017.3 445.2 1014.7C444.8 1012 442.7 1009.6 443.6 1007C444.4 1004.5 447.6 1001.1 450.2 999.5C452.9 997.9 457 996.8 459.5 997.4C462 997.9 463.8 1000.7 465.2 1002.9C466.7 1005 468.6 1007.9 468.1 1010.5C467.6 1013.1 464.4 1016.1 462.2 1018.4Z" fill="url(#kd)"/>
<path d="M493.4 1022.8C491.4 1022.1 488.6 1021.4 487.8 1019.2C487 1017.1 487.3 1012.5 488.4 1009.9C489.5 1007.3 492.4 1005.3 494.5 1003.5C496.6 1001.8 499 999.4 500.8 999.4C502.6 999.4 504 1001.8 505.2 1003.4C506.5 1005.1 508.1 1006.7 508.3 1009.2C508.5 1011.6 507.7 1015.7 506.2 1018.1C504.8 1020.5 501.7 1022.7 499.6 1023.5C497.4 1024.3 495.3 1023.5 493.4 1022.8Z" fill="url(#kb)"/>
<path d="M507.4 1021.1C506.8 1019.2 506.6 1017.1 507.5 1015C508.4 1012.9 510.5 1009.8 512.8 1008.7C515.1 1007.5 518.7 1008 521.4 1008.2C524.1 1008.3 527 1008.3 528.8 1009.4C530.7 1010.6 532.5 1012.8 532.6 1015.1C532.7 1017.3 531.5 1020.8 529.3 1022.8C527.2 1024.9 522.9 1026.8 519.9 1027.4C516.9 1027.9 513.2 1027.2 511.1 1026.2C509 1025.1 508 1023 507.4 1021.1Z" fill="url(#ka)"/><rect x="379" y="778" width="236" height="236" filter="url(#grain)" opacity="0.35"/></g>
<path d="M624.4 680.5 L556 793" fill="none" stroke="#2832a6" stroke-width="1.8"/>
<circle cx="192.4" cy="884" r="5.6" fill="#131b8b" stroke="#fff" stroke-width="1.2"/>
<circle cx="798" cy="914.4" r="5.6" fill="#131b8b" stroke="#fff" stroke-width="1.2"/>
<circle cx="712.5" cy="1105.5" r="5.6" fill="#131b8b" stroke="#fff" stroke-width="1.2"/>
<circle cx="581" cy="1188.6" r="5.6" fill="#131b8b" stroke="#fff" stroke-width="1.2"/>
<circle cx="473" cy="1196.4" r="5.6" fill="#131b8b" stroke="#fff" stroke-width="1.2"/>
<circle cx="287.5" cy="1116.9" r="5.6" fill="#131b8b" stroke="#fff" stroke-width="1.2"/>
<line x1="287.5" y1="1116.9" x2="157.5" y2="1258" stroke="#131b8b" stroke-width="2"/>
<text transform="translate(86.58 137) scale(0.9699 1)" font-size="73.4" font-weight="bold" fill="#ffffff">АНАЛИТИЧЕСКИЙ</text>
<text transform="translate(87.04 262.2) scale(0.9054 1)" font-size="73.4" font-weight="bold" fill="#ffffff">СОСТАВ</text>
<text transform="translate(636.24 279.5) scale(0.9947 1)" font-size="31.7" font-weight="bold" fill="#161d8d" font-family="'DejaVu Sans', 'Liberation Sans', sans-serif">0,6%</text>
<text transform="translate(825.75 279.5) scale(0.9842 1)" font-size="31.7" font-weight="bold" fill="#161d8d" font-family="'DejaVu Sans', 'Liberation Sans', sans-serif">0,5%</text>
<text transform="translate(636.45 363.5) scale(0.9889 1)" font-size="31.7" font-weight="bold" fill="#161d8d" font-family="'DejaVu Sans', 'Liberation Sans', sans-serif">0,2%</text>
<text transform="translate(826.35 363.5) scale(0.9841 1)" font-size="31.7" font-weight="bold" fill="#161d8d" font-family="'DejaVu Sans', 'Liberation Sans', sans-serif">0,06%</text>
<text transform="translate(636.38 450.8) scale(0.9598 1)" font-size="31.7" font-weight="bold" fill="#161d8d" font-family="'DejaVu Sans', 'Liberation Sans', sans-serif">0,7%</text>
<text transform="translate(824.87 450.8) scale(0.9542 1)" font-size="31.7" font-weight="bold" fill="#161d8d" font-family="'DejaVu Sans', 'Liberation Sans', sans-serif">1,4%</text>
<text transform="translate(636.37 537.5) scale(0.9712 1)" font-size="31.7" font-weight="bold" fill="#161d8d" font-family="'DejaVu Sans', 'Liberation Sans', sans-serif">0,28%</text>
<text transform="translate(825.2 536.5) scale(1.0221 1)" font-size="31.7" font-weight="bold" fill="#161d8d" font-family="'DejaVu Sans', 'Liberation Sans', sans-serif">4%</text>
<text transform="translate(635.58 618) scale(0.9247 1)" font-size="31.7" font-weight="bold" fill="#161d8d" font-family="'DejaVu Sans', 'Liberation Sans', sans-serif">1%</text>
<text transform="translate(826.85 618) scale(0.9842 1)" font-size="31.7" font-weight="bold" fill="#161d8d" font-family="'DejaVu Sans', 'Liberation Sans', sans-serif">0,2%</text>
<text transform="translate(635 315.7) scale(0.9957 1)" font-size="26.75" font-weight="200" fill="#161616" font-family="'DejaVu Sans', 'Liberation Sans', sans-serif" stroke="#161616" stroke-width="0.55">КАЛЬЦИЙ</text>
<text transform="translate(824.56 315.7) scale(1.0124 1)" font-size="26.75" font-weight="200" fill="#161616" font-family="'DejaVu Sans', 'Liberation Sans', sans-serif" stroke="#161616" stroke-width="0.55">ФОСФОР</text>
<text transform="translate(634.98 397.3) scale(1.0040 1)" font-size="26.75" font-weight="200" fill="#161616" font-family="'DejaVu Sans', 'Liberation Sans', sans-serif" stroke="#161616" stroke-width="0.55">НАТРИЙ</text>
<text transform="translate(822.27 397.3) scale(1.0592 1)" font-size="26.75" font-weight="200" fill="#161616" font-family="'DejaVu Sans', 'Liberation Sans', sans-serif" stroke="#161616" stroke-width="0.55">МАГНИЙ</text>
<text transform="translate(634.28 485.2) scale(1.0338 1)" font-size="26.75" font-weight="200" fill="#161616" font-family="'DejaVu Sans', 'Liberation Sans', sans-serif" stroke="#161616" stroke-width="0.55">КАЛИЙ</text>
<text transform="translate(825.13 485.2) scale(1.0265 1)" font-size="26.75" font-weight="200" fill="#161616" font-family="'DejaVu Sans', 'Liberation Sans', sans-serif" stroke="#161616" stroke-width="0.55">ЛИЗИН</text>
<text transform="translate(634.39 570.5) scale(0.9857 1)" font-size="26.75" font-weight="200" fill="#161616" font-family="'DejaVu Sans', 'Liberation Sans', sans-serif" stroke="#161616" stroke-width="0.55">ОМЕГА 3</text>
<text transform="translate(824.41 570.5) scale(0.9756 1)" font-size="26.75" font-weight="200" fill="#161616" font-family="'DejaVu Sans', 'Liberation Sans', sans-serif" stroke="#161616" stroke-width="0.55">ОМЕГА 6</text>
<text transform="translate(633.18 653.2) scale(1.0323 1)" font-size="26.75" font-weight="200" fill="#161616" font-family="'DejaVu Sans', 'Liberation Sans', sans-serif" stroke="#161616" stroke-width="0.55">МЕТИОНИН</text>
<text transform="translate(635.92 692.6) scale(0.9635 1)" font-size="26.75" font-weight="200" fill="#161616" font-family="'DejaVu Sans', 'Liberation Sans', sans-serif" stroke="#161616" stroke-width="0.55">+ЦИСТЕИН</text>
<text transform="translate(826.28 652.6) scale(0.9678 1)" font-size="26.75" font-weight="200" fill="#161616" font-family="'DejaVu Sans', 'Liberation Sans', sans-serif" stroke="#161616" stroke-width="0.55">ТРИПТОФАН</text>
<text transform="translate(75.5 909.4) scale(0.9254 1)" font-size="32.38" font-weight="bold" fill="#161d8d" font-family="'DejaVu Sans', 'Liberation Sans', sans-serif">41,8%</text>
<text transform="translate(36.17 946.2) scale(0.9590 1)" font-size="26.75" font-weight="200" fill="#161616" font-family="'DejaVu Sans', 'Liberation Sans', sans-serif" stroke="#161616" stroke-width="0.55">УГЛЕВОДЫ</text>
<text transform="translate(808.77 927.4) scale(0.9849 1)" font-size="32.38" font-weight="bold" fill="#161d8d" font-family="'DejaVu Sans', 'Liberation Sans', sans-serif">25%</text>
<text transform="translate(808.93 962.4) scale(0.9568 1)" font-size="26.75" font-weight="200" fill="#161616" font-family="'DejaVu Sans', 'Liberation Sans', sans-serif" stroke="#161616" stroke-width="0.55">ПРОТЕИН</text>
<text transform="translate(726.46 1146.3) scale(0.9902 1)" font-size="32.38" font-weight="bold" fill="#161d8d" font-family="'DejaVu Sans', 'Liberation Sans', sans-serif">20%</text>
<text transform="translate(726.76 1182.5) scale(0.9255 1)" font-size="26.75" font-weight="200" fill="#161616" font-family="'DejaVu Sans', 'Liberation Sans', sans-serif" stroke="#161616" stroke-width="0.55">ЖИР</text>
<text transform="translate(461.2 1245) scale(0.9901 1)" font-size="31.7" font-weight="bold" fill="#161d8d" font-family="'DejaVu Sans', 'Liberation Sans', sans-serif">5%</text>
<text transform="translate(460.93 1278.9) scale(1.0004 1)" font-size="26.75" font-weight="200" fill="#161616" font-family="'DejaVu Sans', 'Liberation Sans', sans-serif" stroke="#161616" stroke-width="0.55">ЗОЛА</text>
<text transform="translate(581.15 1245) scale(0.9682 1)" font-size="31.7" font-weight="bold" fill="#161d8d" font-family="'DejaVu Sans', 'Liberation Sans', sans-serif">2,2%</text>
<text transform="translate(580.38 1278.9) scale(0.9106 1)" font-size="26.75" font-weight="200" fill="#161616" font-family="'DejaVu Sans', 'Liberation Sans', sans-serif" stroke="#161616" stroke-width="0.55">КЛЕТЧАТКА</text>
<text transform="translate(81.89 1278.9) scale(0.8978 1)" font-size="26.06" font-weight="200" fill="#161616" font-family="'DejaVu Sans', 'Liberation Sans', sans-serif" stroke="#161616" stroke-width="0.55">Влага</text>
<text transform="translate(161.16 1279) scale(0.9960 1)" font-size="25.85" font-weight="bold" fill="#161d8d" font-family="'DejaVu Sans', 'Liberation Sans', sans-serif">6%</text>
</svg>
</body></html>
